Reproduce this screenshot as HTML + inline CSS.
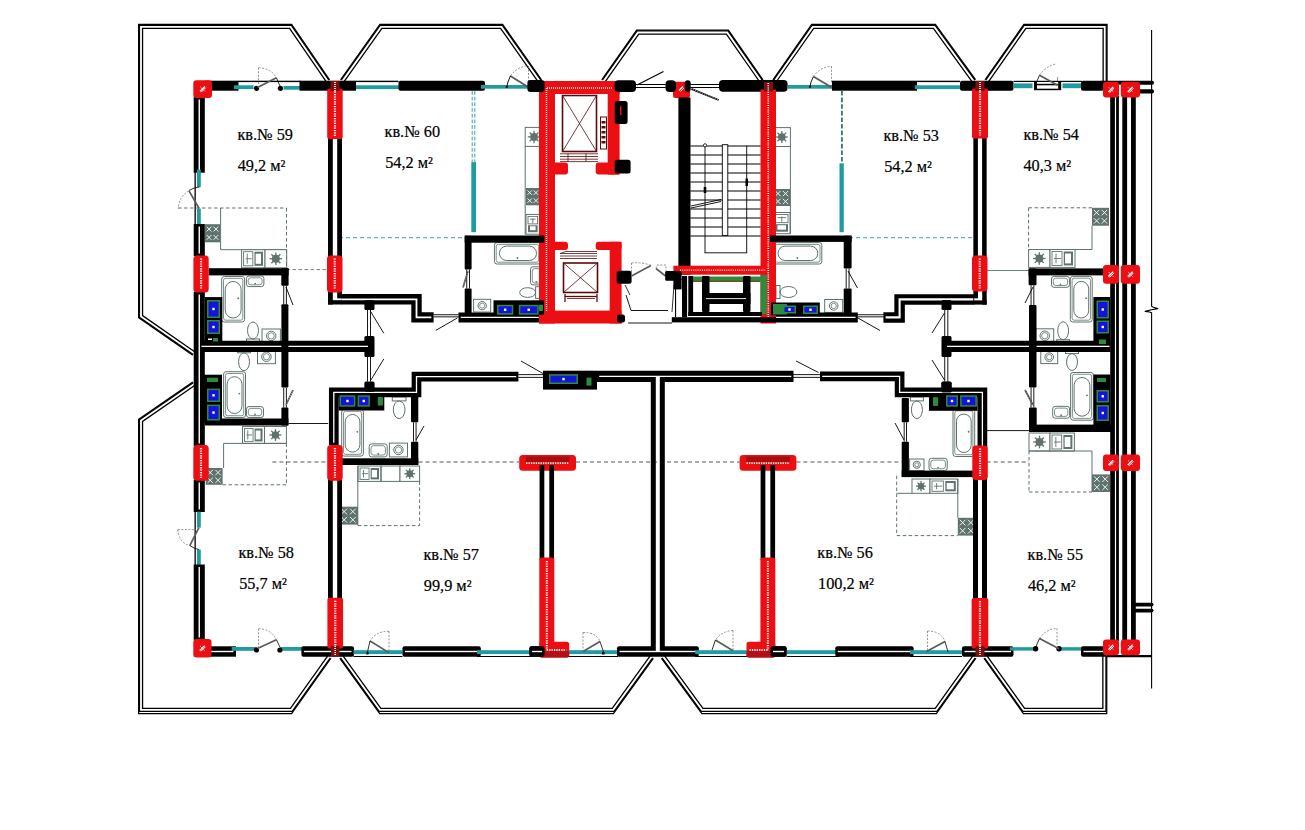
<!DOCTYPE html>
<html><head><meta charset="utf-8"><title>plan</title>
<style>
html,body{margin:0;padding:0;background:#fff;}
body{width:1305px;height:830px;overflow:hidden;}
svg{display:block;}
text{font-family:"Liberation Serif",serif;fill:#000;stroke:#000;stroke-width:0.2px;}
</style></head><body>
<svg width="1305" height="830" viewBox="0 0 1305 830">
<rect width="1305" height="830" fill="#fff"/>
<path d="M195 352.06 L142.55 315.59 L142.55 28.35 L289.58 28.35 L326.36 81.99 M343.73 82.01 L381.9 28.35 L500.59 28.35 L538.37 82.01 M604.93 82.01 L638.71 34.05 L726.39 34.05 L759.76 82 M776.13 82 L813.71 28.35 L933.41 28.35 L972.38 82.03 M988.23 82.01 L1025.91 28.35 L1103.15 28.35 L1103.15 81 M1102.85 656 L1102.85 708.4 L1024.56 708.4 L987.02 655.98 M972.78 655.98 L935.24 708.4 L702.94 708.4 L664.61 655.97 M650.18 655.97 L612.25 708.4 L380.85 708.4 L343.02 655.98 M327.77 655.98 L290.43 708.4 L142.55 708.4 L142.55 421.42 L194.99 385.24" stroke="#000" stroke-width="1.3" fill="none" stroke-linejoin="miter"/>
<path d="M193.23 354.61 L139.45 317.21 L139.45 25.25 L291.21 25.25 L328.91 80.24 M341.2 80.22 L380.3 25.25 L502.2 25.25 L540.9 80.22 M602.4 80.22 L637.1 30.95 L728.01 30.95 L762.31 80.23 M773.59 80.23 L812.1 25.25 L934.99 25.25 L974.89 80.21 M985.7 80.22 L1024.3 25.25 L1106.25 25.25 L1106.25 81 M1105.95 656 L1105.95 711.3 L1022.83 711.3 L984.5 657.79 M975.3 657.79 L936.97 711.3 L701.22 711.3 L662.11 657.8 M652.69 657.79 L613.98 711.3 L379.12 711.3 L340.51 657.79 M330.3 657.78 L292.17 711.3 L139.45 711.3 L139.45 419.79 L193.23 382.69" stroke="#000" stroke-width="1.25" fill="none" stroke-linejoin="miter"/>
<path d="M192.77 355.27 L138.65 317.62 L138.65 24.45 L291.63 24.45 L329.57 79.78 M340.55 79.75 L379.89 24.45 L502.62 24.45 L541.56 79.76 M601.74 79.76 L636.68 30.15 L728.42 30.15 L762.96 79.77 M772.94 79.77 L811.68 24.45 L935.4 24.45 L975.54 79.74 M985.04 79.76 L1023.88 24.45 L1107.05 24.45 L1107.05 81 M1106.75 656 L1106.75 713.5 L1023.42 713.5 L983.85 658.25 M975.95 658.25 L936.38 713.5 L701.84 713.5 L661.46 658.27 M653.34 658.26 L613.37 713.5 L379.72 713.5 L339.86 658.26 M330.95 658.25 L291.59 713.5 L138.65 713.5 L138.65 419.37 L192.78 382.03" stroke="#000" stroke-width="1.25" fill="none" stroke-linejoin="miter"/>
<path d="M1151.6 30 L1151.6 306.3 L1153.5 307.3 L1157.8 308.6 L1151.5 309.8 L1145.1 311.4 L1149.5 312 L1151.6 312.8 L1151.6 688.5" stroke="#000" stroke-width="1.1" fill="none" stroke-linejoin="round"/>
<line x1="1107" y1="656.2" x2="1151.7" y2="656.2" stroke="#000" stroke-width="2.2"/>
<rect x="221.7" y="276.5" width="22.9" height="45.5" rx="2.5" fill="none" stroke="#5f736e" stroke-width="1"/>
<rect x="223.5" y="278.3" width="19.3" height="41.9" rx="2" fill="none" stroke="#5f736e" stroke-width="0.8"/>
<rect x="225.2" y="281.5" width="15.9" height="36.5" rx="7.95" fill="none" stroke="#5f736e" stroke-width="1"/>
<circle cx="238.19" cy="298.25" r="0.9" fill="#5f736e" stroke="none" stroke-width="1"/>
<rect x="246.4" y="276" width="17.5" height="10.6" rx="2.5" fill="none" stroke="#5f736e" stroke-width="1"/>
<rect x="248.2" y="277.8" width="13.9" height="7" rx="2.5" fill="none" stroke="#5f736e" stroke-width="0.8"/>
<circle cx="255.15" cy="283.6" r="0.9" fill="#5f736e" stroke="none" stroke-width="1"/>
<rect x="246.5" y="339" width="13" height="4" fill="none" stroke="#5f736e" stroke-width="1"/>
<ellipse cx="253" cy="330.5" rx="5.5" ry="8.5" fill="none" stroke="#5f736e" stroke-width="1"/>
<rect x="262" y="329" width="18.4" height="13.8" fill="#fff" stroke="#5f736e" stroke-width="1"/>
<circle cx="271.2" cy="335.9" r="4.7" fill="none" stroke="#5f736e" stroke-width="1"/>
<circle cx="271.2" cy="335.9" r="3.1" fill="none" stroke="#5f736e" stroke-width="0.8"/>
<rect x="205" y="224.2" width="15" height="18.1" fill="#5f736e"/>
<line x1="206.65" y1="226.69" x2="211.45" y2="231.49" stroke="#fff" stroke-width="0.9"/>
<line x1="206.65" y1="231.49" x2="211.45" y2="226.69" stroke="#fff" stroke-width="0.9"/>
<line x1="206.65" y1="235.01" x2="211.45" y2="239.81" stroke="#fff" stroke-width="0.9"/>
<line x1="206.65" y1="239.81" x2="211.45" y2="235.01" stroke="#fff" stroke-width="0.9"/>
<line x1="213.55" y1="226.69" x2="218.35" y2="231.49" stroke="#fff" stroke-width="0.9"/>
<line x1="213.55" y1="231.49" x2="218.35" y2="226.69" stroke="#fff" stroke-width="0.9"/>
<line x1="213.55" y1="235.01" x2="218.35" y2="239.81" stroke="#fff" stroke-width="0.9"/>
<line x1="213.55" y1="239.81" x2="218.35" y2="235.01" stroke="#fff" stroke-width="0.9"/>
<line x1="220.6" y1="208" x2="220.6" y2="249.7" stroke="#5f736e" stroke-width="1"/>
<line x1="220.6" y1="249.7" x2="286.5" y2="249.7" stroke="#5f736e" stroke-width="1"/>
<rect x="241.6" y="249.7" width="23.4" height="18.1" fill="#fff" stroke="#5f736e" stroke-width="1"/>
<rect x="243.6" y="251.7" width="9.23" height="14.1" fill="none" stroke="#5f736e" stroke-width="0.9"/>
<rect x="254.47" y="251.7" width="8.53" height="14.1" fill="#5f736e"/>
<rect x="255.64" y="253.7" width="5.36" height="10.1" fill="#fff"/>
<line x1="247.22" y1="253.7" x2="247.22" y2="263.8" stroke="#5f736e" stroke-width="0.9"/>
<line x1="245.6" y1="258.75" x2="251.9" y2="258.75" stroke="#5f736e" stroke-width="0.9"/>
<rect x="265" y="249.7" width="21.7" height="18.1" fill="#fff" stroke="#5f736e" stroke-width="1"/>
<circle cx="275.85" cy="258.75" r="3.98" fill="#5f736e" stroke="none" stroke-width="1"/>
<line x1="279.04" y1="258.75" x2="282.22" y2="258.75" stroke="#5f736e" stroke-width="1.3"/>
<line x1="278.1" y1="261" x2="280.36" y2="263.26" stroke="#5f736e" stroke-width="1.3"/>
<line x1="275.85" y1="261.94" x2="275.85" y2="265.12" stroke="#5f736e" stroke-width="1.3"/>
<line x1="273.6" y1="261" x2="271.34" y2="263.26" stroke="#5f736e" stroke-width="1.3"/>
<line x1="272.66" y1="258.75" x2="269.48" y2="258.75" stroke="#5f736e" stroke-width="1.3"/>
<line x1="273.6" y1="256.5" x2="271.34" y2="254.24" stroke="#5f736e" stroke-width="1.3"/>
<line x1="275.85" y1="255.56" x2="275.85" y2="252.38" stroke="#5f736e" stroke-width="1.3"/>
<line x1="278.1" y1="256.5" x2="280.36" y2="254.24" stroke="#5f736e" stroke-width="1.3"/>
<line x1="178" y1="208" x2="286.5" y2="208" stroke="#5f736e" stroke-width="1" stroke-dasharray="3.5 2.5"/>
<line x1="286.5" y1="208" x2="286.5" y2="268" stroke="#5f736e" stroke-width="1" stroke-dasharray="3.5 2.5"/>
<rect x="223.6" y="371.7" width="21.9" height="45.8" rx="2.5" fill="none" stroke="#5f736e" stroke-width="1"/>
<rect x="225.4" y="373.5" width="18.3" height="42.2" rx="2" fill="none" stroke="#5f736e" stroke-width="0.8"/>
<rect x="227.1" y="376.7" width="14.9" height="36.8" rx="7.45" fill="none" stroke="#5f736e" stroke-width="1"/>
<circle cx="239.37" cy="393.6" r="0.9" fill="#5f736e" stroke="none" stroke-width="1"/>
<rect x="246.5" y="406.6" width="17" height="10.9" rx="2.5" fill="none" stroke="#5f736e" stroke-width="1"/>
<rect x="248.3" y="408.4" width="13.4" height="7.3" rx="2.5" fill="none" stroke="#5f736e" stroke-width="0.8"/>
<circle cx="255" cy="414.5" r="0.9" fill="#5f736e" stroke="none" stroke-width="1"/>
<rect x="237.6" y="348.8" width="12.9" height="4" fill="none" stroke="#5f736e" stroke-width="1"/>
<ellipse cx="244.05" cy="361.75" rx="5.45" ry="8.95" fill="none" stroke="#5f736e" stroke-width="1"/>
<rect x="257.5" y="349.8" width="17.9" height="13.9" fill="#fff" stroke="#5f736e" stroke-width="1"/>
<circle cx="266.45" cy="356.75" r="4.75" fill="none" stroke="#5f736e" stroke-width="1"/>
<circle cx="266.45" cy="356.75" r="3.15" fill="none" stroke="#5f736e" stroke-width="0.8"/>
<rect x="242.5" y="426.5" width="22" height="16.9" fill="#fff" stroke="#5f736e" stroke-width="1"/>
<rect x="244.5" y="428.5" width="8.56" height="12.9" fill="none" stroke="#5f736e" stroke-width="0.9"/>
<rect x="254.6" y="428.5" width="7.9" height="12.9" fill="#5f736e"/>
<rect x="255.7" y="430.5" width="4.8" height="8.9" fill="#fff"/>
<line x1="247.78" y1="430.5" x2="247.78" y2="439.4" stroke="#5f736e" stroke-width="0.9"/>
<line x1="246.5" y1="434.95" x2="252.18" y2="434.95" stroke="#5f736e" stroke-width="0.9"/>
<rect x="264.5" y="426.5" width="21.9" height="16.9" fill="#fff" stroke="#5f736e" stroke-width="1"/>
<circle cx="275.45" cy="434.95" r="3.72" fill="#5f736e" stroke="none" stroke-width="1"/>
<line x1="278.42" y1="434.95" x2="281.4" y2="434.95" stroke="#5f736e" stroke-width="1.3"/>
<line x1="277.55" y1="437.05" x2="279.66" y2="439.16" stroke="#5f736e" stroke-width="1.3"/>
<line x1="275.45" y1="437.92" x2="275.45" y2="440.9" stroke="#5f736e" stroke-width="1.3"/>
<line x1="273.35" y1="437.05" x2="271.24" y2="439.16" stroke="#5f736e" stroke-width="1.3"/>
<line x1="272.48" y1="434.95" x2="269.5" y2="434.95" stroke="#5f736e" stroke-width="1.3"/>
<line x1="273.35" y1="432.85" x2="271.24" y2="430.74" stroke="#5f736e" stroke-width="1.3"/>
<line x1="275.45" y1="431.98" x2="275.45" y2="429" stroke="#5f736e" stroke-width="1.3"/>
<line x1="277.55" y1="432.85" x2="279.66" y2="430.74" stroke="#5f736e" stroke-width="1.3"/>
<line x1="223.6" y1="443.4" x2="286.4" y2="443.4" stroke="#5f736e" stroke-width="1"/>
<line x1="223.6" y1="443.4" x2="223.6" y2="468" stroke="#5f736e" stroke-width="1"/>
<rect x="205.7" y="468" width="16.9" height="16.8" fill="#5f736e"/>
<line x1="207.57" y1="469.85" x2="212.95" y2="475.22" stroke="#fff" stroke-width="0.9"/>
<line x1="207.57" y1="475.22" x2="212.95" y2="469.85" stroke="#fff" stroke-width="0.9"/>
<line x1="207.57" y1="477.58" x2="212.95" y2="482.95" stroke="#fff" stroke-width="0.9"/>
<line x1="207.57" y1="482.95" x2="212.95" y2="477.58" stroke="#fff" stroke-width="0.9"/>
<line x1="215.35" y1="469.85" x2="220.72" y2="475.22" stroke="#fff" stroke-width="0.9"/>
<line x1="215.35" y1="475.22" x2="220.72" y2="469.85" stroke="#fff" stroke-width="0.9"/>
<line x1="215.35" y1="477.58" x2="220.72" y2="482.95" stroke="#fff" stroke-width="0.9"/>
<line x1="215.35" y1="482.95" x2="220.72" y2="477.58" stroke="#fff" stroke-width="0.9"/>
<line x1="222.6" y1="484.8" x2="286.4" y2="484.8" stroke="#5f736e" stroke-width="1" stroke-dasharray="3.5 2.5"/>
<line x1="286.4" y1="443.4" x2="286.4" y2="484.8" stroke="#5f736e" stroke-width="1" stroke-dasharray="3.5 2.5"/>
<rect x="494.4" y="242.6" width="46.1" height="21.4" rx="2.5" fill="none" stroke="#5f736e" stroke-width="1"/>
<rect x="496.2" y="244.4" width="42.5" height="17.8" rx="2" fill="none" stroke="#5f736e" stroke-width="0.8"/>
<rect x="499.4" y="246.1" width="37.1" height="14.4" rx="7.2" fill="none" stroke="#5f736e" stroke-width="1"/>
<circle cx="517.45" cy="258.01" r="0.9" fill="#5f736e" stroke="none" stroke-width="1"/>
<rect x="530.5" y="266.8" width="11.8" height="18.1" rx="2.5" fill="none" stroke="#5f736e" stroke-width="1"/>
<rect x="532.3" y="268.6" width="8.2" height="14.5" rx="2.5" fill="none" stroke="#5f736e" stroke-width="0.8"/>
<circle cx="536.4" cy="281.9" r="0.9" fill="#5f736e" stroke="none" stroke-width="1"/>
<rect x="535.6" y="286.7" width="4" height="11.7" fill="none" stroke="#5f736e" stroke-width="1"/>
<ellipse cx="527.65" cy="292.55" rx="7.95" ry="4.85" fill="none" stroke="#5f736e" stroke-width="1"/>
<rect x="473.6" y="299.3" width="17.1" height="12.7" fill="#fff" stroke="#5f736e" stroke-width="1"/>
<circle cx="482.15" cy="305.65" r="4.15" fill="none" stroke="#5f736e" stroke-width="1"/>
<circle cx="482.15" cy="305.65" r="2.55" fill="none" stroke="#5f736e" stroke-width="0.8"/>
<rect x="525.2" y="127.4" width="17.7" height="19" fill="#fff" stroke="#5f736e" stroke-width="1"/>
<circle cx="534.05" cy="136.9" r="3.89" fill="#5f736e" stroke="none" stroke-width="1"/>
<line x1="537.17" y1="136.9" x2="540.28" y2="136.9" stroke="#5f736e" stroke-width="1.3"/>
<line x1="536.25" y1="139.1" x2="538.46" y2="141.31" stroke="#5f736e" stroke-width="1.3"/>
<line x1="534.05" y1="140.02" x2="534.05" y2="143.13" stroke="#5f736e" stroke-width="1.3"/>
<line x1="531.85" y1="139.1" x2="529.64" y2="141.31" stroke="#5f736e" stroke-width="1.3"/>
<line x1="530.93" y1="136.9" x2="527.82" y2="136.9" stroke="#5f736e" stroke-width="1.3"/>
<line x1="531.85" y1="134.7" x2="529.64" y2="132.49" stroke="#5f736e" stroke-width="1.3"/>
<line x1="534.05" y1="133.78" x2="534.05" y2="130.67" stroke="#5f736e" stroke-width="1.3"/>
<line x1="536.25" y1="134.7" x2="538.46" y2="132.49" stroke="#5f736e" stroke-width="1.3"/>
<line x1="525.2" y1="146.4" x2="525.2" y2="234.5" stroke="#5f736e" stroke-width="1"/>
<rect x="526" y="188" width="13.6" height="17.3" fill="#5f736e"/>
<line x1="527.5" y1="190.49" x2="531.85" y2="194.85" stroke="#fff" stroke-width="0.9"/>
<line x1="527.5" y1="194.85" x2="531.85" y2="190.49" stroke="#fff" stroke-width="0.9"/>
<line x1="527.5" y1="198.45" x2="531.85" y2="202.81" stroke="#fff" stroke-width="0.9"/>
<line x1="527.5" y1="202.81" x2="531.85" y2="198.45" stroke="#fff" stroke-width="0.9"/>
<line x1="533.75" y1="190.49" x2="538.1" y2="194.85" stroke="#fff" stroke-width="0.9"/>
<line x1="533.75" y1="194.85" x2="538.1" y2="190.49" stroke="#fff" stroke-width="0.9"/>
<line x1="533.75" y1="198.45" x2="538.1" y2="202.81" stroke="#fff" stroke-width="0.9"/>
<line x1="533.75" y1="202.81" x2="538.1" y2="198.45" stroke="#fff" stroke-width="0.9"/>
<rect x="526" y="214.4" width="13.6" height="19.8" fill="#fff" stroke="#5f736e" stroke-width="1"/>
<rect x="528" y="216.4" width="9.6" height="7.5" fill="none" stroke="#5f736e" stroke-width="0.9"/>
<rect x="528" y="225.29" width="9.6" height="6.91" fill="#5f736e"/>
<rect x="530" y="226.28" width="5.6" height="3.92" fill="#fff"/>
<line x1="532.8" y1="218.4" x2="532.8" y2="223.11" stroke="#5f736e" stroke-width="0.9"/>
<line x1="530" y1="219.15" x2="535.6" y2="219.15" stroke="#5f736e" stroke-width="0.9"/>
<rect x="341.7" y="409.5" width="21.7" height="46.6" rx="2.5" fill="none" stroke="#5f736e" stroke-width="1"/>
<rect x="343.5" y="411.3" width="18.1" height="43" rx="2" fill="none" stroke="#5f736e" stroke-width="0.8"/>
<rect x="345.2" y="414.5" width="14.7" height="37.6" rx="7.35" fill="none" stroke="#5f736e" stroke-width="1"/>
<circle cx="357.32" cy="431.8" r="0.9" fill="#5f736e" stroke="none" stroke-width="1"/>
<rect x="392.3" y="396.9" width="13.7" height="4" fill="none" stroke="#5f736e" stroke-width="1"/>
<ellipse cx="399.15" cy="409.75" rx="5.85" ry="8.85" fill="none" stroke="#5f736e" stroke-width="1"/>
<rect x="369.2" y="443.9" width="18" height="13" rx="2.5" fill="none" stroke="#5f736e" stroke-width="1"/>
<rect x="371" y="445.7" width="14.4" height="9.4" rx="2.5" fill="none" stroke="#5f736e" stroke-width="0.8"/>
<circle cx="378.2" cy="453.9" r="0.9" fill="#5f736e" stroke="none" stroke-width="1"/>
<rect x="389.4" y="443.1" width="18.1" height="13.8" fill="#fff" stroke="#5f736e" stroke-width="1"/>
<circle cx="398.45" cy="450" r="4.7" fill="none" stroke="#5f736e" stroke-width="1"/>
<circle cx="398.45" cy="450" r="3.1" fill="none" stroke="#5f736e" stroke-width="0.8"/>
<rect x="358" y="466" width="23" height="15.4" fill="#fff" stroke="#5f736e" stroke-width="1"/>
<rect x="360" y="468" width="9.04" height="11.4" fill="none" stroke="#5f736e" stroke-width="0.9"/>
<rect x="370.65" y="468" width="8.35" height="11.4" fill="#5f736e"/>
<rect x="371.8" y="470" width="5.2" height="7.4" fill="#fff"/>
<line x1="363.52" y1="470" x2="363.52" y2="477.4" stroke="#5f736e" stroke-width="0.9"/>
<line x1="362" y1="473.7" x2="368.12" y2="473.7" stroke="#5f736e" stroke-width="0.9"/>
<rect x="381" y="466" width="19" height="15.4" fill="none" stroke="#5f736e" stroke-width="1"/>
<rect x="400" y="466" width="19.6" height="15.4" fill="#fff" stroke="#5f736e" stroke-width="1"/>
<circle cx="409.8" cy="473.7" r="3.39" fill="#5f736e" stroke="none" stroke-width="1"/>
<line x1="412.51" y1="473.7" x2="415.22" y2="473.7" stroke="#5f736e" stroke-width="1.3"/>
<line x1="411.72" y1="475.62" x2="413.63" y2="477.53" stroke="#5f736e" stroke-width="1.3"/>
<line x1="409.8" y1="476.41" x2="409.8" y2="479.12" stroke="#5f736e" stroke-width="1.3"/>
<line x1="407.88" y1="475.62" x2="405.97" y2="477.53" stroke="#5f736e" stroke-width="1.3"/>
<line x1="407.09" y1="473.7" x2="404.38" y2="473.7" stroke="#5f736e" stroke-width="1.3"/>
<line x1="407.88" y1="471.78" x2="405.97" y2="469.87" stroke="#5f736e" stroke-width="1.3"/>
<line x1="409.8" y1="470.99" x2="409.8" y2="468.28" stroke="#5f736e" stroke-width="1.3"/>
<line x1="411.72" y1="471.78" x2="413.63" y2="469.87" stroke="#5f736e" stroke-width="1.3"/>
<line x1="357.8" y1="466" x2="357.8" y2="525.6" stroke="#5f736e" stroke-width="1"/>
<rect x="339" y="506.7" width="19" height="17.9" fill="#5f736e"/>
<line x1="341.27" y1="508.67" x2="346.99" y2="514.4" stroke="#fff" stroke-width="0.9"/>
<line x1="341.27" y1="514.4" x2="346.99" y2="508.67" stroke="#fff" stroke-width="0.9"/>
<line x1="341.27" y1="516.9" x2="346.99" y2="522.63" stroke="#fff" stroke-width="0.9"/>
<line x1="341.27" y1="522.63" x2="346.99" y2="516.9" stroke="#fff" stroke-width="0.9"/>
<line x1="350.01" y1="508.67" x2="355.73" y2="514.4" stroke="#fff" stroke-width="0.9"/>
<line x1="350.01" y1="514.4" x2="355.73" y2="508.67" stroke="#fff" stroke-width="0.9"/>
<line x1="350.01" y1="516.9" x2="355.73" y2="522.63" stroke="#fff" stroke-width="0.9"/>
<line x1="350.01" y1="522.63" x2="355.73" y2="516.9" stroke="#fff" stroke-width="0.9"/>
<line x1="419.6" y1="481.4" x2="419.6" y2="525.6" stroke="#5f736e" stroke-width="1" stroke-dasharray="3.5 2.5"/>
<line x1="358" y1="525.6" x2="419.6" y2="525.6" stroke="#5f736e" stroke-width="1" stroke-dasharray="3.5 2.5"/>
<rect x="563" y="374.2" width="1.5" height="9.8" fill="#fff"/>
<rect x="774" y="305" width="3" height="3" fill="#000"/>
<rect x="773" y="242.6" width="48.8" height="21.4" rx="2.5" fill="none" stroke="#5f736e" stroke-width="1"/>
<rect x="774.8" y="244.4" width="45.2" height="17.8" rx="2" fill="none" stroke="#5f736e" stroke-width="0.8"/>
<rect x="778" y="246.1" width="39.8" height="14.4" rx="7.2" fill="none" stroke="#5f736e" stroke-width="1"/>
<circle cx="797.4" cy="258.01" r="0.9" fill="#5f736e" stroke="none" stroke-width="1"/>
<rect x="776" y="285.5" width="4" height="13" fill="none" stroke="#5f736e" stroke-width="1"/>
<ellipse cx="788.45" cy="292" rx="8.45" ry="5.5" fill="none" stroke="#5f736e" stroke-width="1"/>
<rect x="824.7" y="299.5" width="18" height="12.9" fill="#fff" stroke="#5f736e" stroke-width="1"/>
<circle cx="833.7" cy="305.95" r="4.25" fill="none" stroke="#5f736e" stroke-width="1"/>
<circle cx="833.7" cy="305.95" r="2.65" fill="none" stroke="#5f736e" stroke-width="0.8"/>
<rect x="773.2" y="127.6" width="17.2" height="18.9" fill="#fff" stroke="#5f736e" stroke-width="1"/>
<circle cx="781.8" cy="137.05" r="3.78" fill="#5f736e" stroke="none" stroke-width="1"/>
<line x1="784.83" y1="137.05" x2="787.85" y2="137.05" stroke="#5f736e" stroke-width="1.3"/>
<line x1="783.94" y1="139.19" x2="786.08" y2="141.33" stroke="#5f736e" stroke-width="1.3"/>
<line x1="781.8" y1="140.08" x2="781.8" y2="143.1" stroke="#5f736e" stroke-width="1.3"/>
<line x1="779.66" y1="139.19" x2="777.52" y2="141.33" stroke="#5f736e" stroke-width="1.3"/>
<line x1="778.77" y1="137.05" x2="775.75" y2="137.05" stroke="#5f736e" stroke-width="1.3"/>
<line x1="779.66" y1="134.91" x2="777.52" y2="132.77" stroke="#5f736e" stroke-width="1.3"/>
<line x1="781.8" y1="134.02" x2="781.8" y2="131" stroke="#5f736e" stroke-width="1.3"/>
<line x1="783.94" y1="134.91" x2="786.08" y2="132.77" stroke="#5f736e" stroke-width="1.3"/>
<line x1="790.4" y1="146.5" x2="790.4" y2="234" stroke="#5f736e" stroke-width="1"/>
<rect x="773.5" y="189" width="16.5" height="17" fill="#5f736e"/>
<line x1="775.32" y1="190.95" x2="780.6" y2="196.23" stroke="#fff" stroke-width="0.9"/>
<line x1="775.32" y1="196.23" x2="780.6" y2="190.95" stroke="#fff" stroke-width="0.9"/>
<line x1="775.32" y1="198.77" x2="780.6" y2="204.05" stroke="#fff" stroke-width="0.9"/>
<line x1="775.32" y1="204.05" x2="780.6" y2="198.77" stroke="#fff" stroke-width="0.9"/>
<line x1="782.9" y1="190.95" x2="788.18" y2="196.23" stroke="#fff" stroke-width="0.9"/>
<line x1="782.9" y1="196.23" x2="788.18" y2="190.95" stroke="#fff" stroke-width="0.9"/>
<line x1="782.9" y1="198.77" x2="788.18" y2="204.05" stroke="#fff" stroke-width="0.9"/>
<line x1="782.9" y1="204.05" x2="788.18" y2="198.77" stroke="#fff" stroke-width="0.9"/>
<rect x="773.5" y="212.5" width="16.5" height="21.2" fill="#fff" stroke="#5f736e" stroke-width="1"/>
<rect x="775.5" y="214.5" width="12.5" height="8.18" fill="none" stroke="#5f736e" stroke-width="0.9"/>
<rect x="775.5" y="224.16" width="12.5" height="7.54" fill="#5f736e"/>
<rect x="777.5" y="225.22" width="8.5" height="4.48" fill="#fff"/>
<line x1="781.75" y1="216.5" x2="781.75" y2="221.83" stroke="#5f736e" stroke-width="0.9"/>
<line x1="777.5" y1="217.59" x2="786" y2="217.59" stroke="#5f736e" stroke-width="0.9"/>
<rect x="953" y="409" width="21.7" height="47.5" rx="2.5" fill="none" stroke="#5f736e" stroke-width="1"/>
<rect x="954.8" y="410.8" width="18.1" height="43.9" rx="2" fill="none" stroke="#5f736e" stroke-width="0.8"/>
<rect x="956.5" y="414" width="14.7" height="38.5" rx="7.35" fill="none" stroke="#5f736e" stroke-width="1"/>
<circle cx="968.62" cy="431.75" r="0.9" fill="#5f736e" stroke="none" stroke-width="1"/>
<rect x="910.4" y="396.9" width="13" height="4" fill="none" stroke="#5f736e" stroke-width="1"/>
<ellipse cx="916.9" cy="409.75" rx="5.5" ry="8.85" fill="none" stroke="#5f736e" stroke-width="1"/>
<rect x="909.6" y="459" width="14.4" height="11.6" fill="#fff" stroke="#5f736e" stroke-width="1"/>
<circle cx="916.8" cy="464.8" r="3.6" fill="none" stroke="#5f736e" stroke-width="1"/>
<circle cx="916.8" cy="464.8" r="2" fill="none" stroke="#5f736e" stroke-width="0.8"/>
<rect x="929" y="458.3" width="18.2" height="12.3" rx="2.5" fill="none" stroke="#5f736e" stroke-width="1"/>
<rect x="930.8" y="460.1" width="14.6" height="8.7" rx="2.5" fill="none" stroke="#5f736e" stroke-width="0.8"/>
<circle cx="938.1" cy="467.6" r="0.9" fill="#5f736e" stroke="none" stroke-width="1"/>
<rect x="912" y="479" width="18" height="14.3" fill="#fff" stroke="#5f736e" stroke-width="1"/>
<circle cx="921" cy="486.15" r="3.15" fill="#5f736e" stroke="none" stroke-width="1"/>
<line x1="923.52" y1="486.15" x2="926.03" y2="486.15" stroke="#5f736e" stroke-width="1.3"/>
<line x1="922.78" y1="487.93" x2="924.56" y2="489.71" stroke="#5f736e" stroke-width="1.3"/>
<line x1="921" y1="488.67" x2="921" y2="491.18" stroke="#5f736e" stroke-width="1.3"/>
<line x1="919.22" y1="487.93" x2="917.44" y2="489.71" stroke="#5f736e" stroke-width="1.3"/>
<line x1="918.48" y1="486.15" x2="915.97" y2="486.15" stroke="#5f736e" stroke-width="1.3"/>
<line x1="919.22" y1="484.37" x2="917.44" y2="482.59" stroke="#5f736e" stroke-width="1.3"/>
<line x1="921" y1="483.63" x2="921" y2="481.12" stroke="#5f736e" stroke-width="1.3"/>
<line x1="922.78" y1="484.37" x2="924.56" y2="482.59" stroke="#5f736e" stroke-width="1.3"/>
<rect x="930" y="479" width="27.8" height="14.3" fill="#fff" stroke="#5f736e" stroke-width="1"/>
<rect x="932" y="481" width="11.34" height="10.3" fill="none" stroke="#5f736e" stroke-width="0.9"/>
<rect x="945.29" y="481" width="10.51" height="10.3" fill="#5f736e"/>
<rect x="946.68" y="483" width="7.12" height="6.3" fill="#fff"/>
<line x1="936.67" y1="483" x2="936.67" y2="489.3" stroke="#5f736e" stroke-width="0.9"/>
<line x1="934" y1="486.15" x2="942.23" y2="486.15" stroke="#5f736e" stroke-width="0.9"/>
<line x1="957.8" y1="479" x2="957.8" y2="517.8" stroke="#5f736e" stroke-width="1"/>
<line x1="896.7" y1="493.3" x2="912" y2="493.3" stroke="#5f736e" stroke-width="1"/>
<rect x="957.8" y="517.8" width="17.8" height="17.8" fill="#5f736e"/>
<line x1="959.76" y1="519.76" x2="965.45" y2="525.45" stroke="#fff" stroke-width="0.9"/>
<line x1="959.76" y1="525.45" x2="965.45" y2="519.76" stroke="#fff" stroke-width="0.9"/>
<line x1="959.76" y1="527.95" x2="965.45" y2="533.64" stroke="#fff" stroke-width="0.9"/>
<line x1="959.76" y1="533.64" x2="965.45" y2="527.95" stroke="#fff" stroke-width="0.9"/>
<line x1="967.95" y1="519.76" x2="973.64" y2="525.45" stroke="#fff" stroke-width="0.9"/>
<line x1="967.95" y1="525.45" x2="973.64" y2="519.76" stroke="#fff" stroke-width="0.9"/>
<line x1="967.95" y1="527.95" x2="973.64" y2="533.64" stroke="#fff" stroke-width="0.9"/>
<line x1="967.95" y1="533.64" x2="973.64" y2="527.95" stroke="#fff" stroke-width="0.9"/>
<line x1="896.7" y1="475.6" x2="896.7" y2="535.6" stroke="#5f736e" stroke-width="1" stroke-dasharray="3.5 2.5"/>
<line x1="896.7" y1="535.6" x2="957.8" y2="535.6" stroke="#5f736e" stroke-width="1" stroke-dasharray="3.5 2.5"/>
<rect x="1070.3" y="276.4" width="21.9" height="45.6" rx="2.5" fill="none" stroke="#5f736e" stroke-width="1"/>
<rect x="1072.1" y="278.2" width="18.3" height="42" rx="2" fill="none" stroke="#5f736e" stroke-width="0.8"/>
<rect x="1073.8" y="281.4" width="14.9" height="36.6" rx="7.45" fill="none" stroke="#5f736e" stroke-width="1"/>
<circle cx="1086.07" cy="298.2" r="0.9" fill="#5f736e" stroke="none" stroke-width="1"/>
<rect x="1051.5" y="276.4" width="17.9" height="10.9" rx="2.5" fill="none" stroke="#5f736e" stroke-width="1"/>
<rect x="1053.3" y="278.2" width="14.3" height="7.3" rx="2.5" fill="none" stroke="#5f736e" stroke-width="0.8"/>
<circle cx="1060.45" cy="284.3" r="0.9" fill="#5f736e" stroke="none" stroke-width="1"/>
<rect x="1056.7" y="339.7" width="12.9" height="4" fill="none" stroke="#5f736e" stroke-width="1"/>
<ellipse cx="1063.15" cy="330.75" rx="5.45" ry="8.95" fill="none" stroke="#5f736e" stroke-width="1"/>
<rect x="1035.8" y="328.8" width="17.9" height="13.9" fill="#fff" stroke="#5f736e" stroke-width="1"/>
<circle cx="1044.75" cy="335.75" r="4.75" fill="none" stroke="#5f736e" stroke-width="1"/>
<circle cx="1044.75" cy="335.75" r="3.15" fill="none" stroke="#5f736e" stroke-width="0.8"/>
<rect x="1092" y="207.8" width="17" height="17.9" fill="#5f736e"/>
<line x1="1093.87" y1="209.91" x2="1099.31" y2="215.35" stroke="#fff" stroke-width="0.9"/>
<line x1="1093.87" y1="215.35" x2="1099.31" y2="209.91" stroke="#fff" stroke-width="0.9"/>
<line x1="1093.87" y1="218.15" x2="1099.31" y2="223.59" stroke="#fff" stroke-width="0.9"/>
<line x1="1093.87" y1="223.59" x2="1099.31" y2="218.15" stroke="#fff" stroke-width="0.9"/>
<line x1="1101.69" y1="209.91" x2="1107.13" y2="215.35" stroke="#fff" stroke-width="0.9"/>
<line x1="1101.69" y1="215.35" x2="1107.13" y2="209.91" stroke="#fff" stroke-width="0.9"/>
<line x1="1101.69" y1="218.15" x2="1107.13" y2="223.59" stroke="#fff" stroke-width="0.9"/>
<line x1="1101.69" y1="223.59" x2="1107.13" y2="218.15" stroke="#fff" stroke-width="0.9"/>
<line x1="1092" y1="225.7" x2="1092" y2="249.5" stroke="#5f736e" stroke-width="1"/>
<line x1="1028.6" y1="249.5" x2="1092" y2="249.5" stroke="#5f736e" stroke-width="1"/>
<rect x="1028.6" y="249.5" width="21.4" height="17.9" fill="#fff" stroke="#5f736e" stroke-width="1"/>
<circle cx="1039.3" cy="258.45" r="3.94" fill="#5f736e" stroke="none" stroke-width="1"/>
<line x1="1042.45" y1="258.45" x2="1045.6" y2="258.45" stroke="#5f736e" stroke-width="1.3"/>
<line x1="1041.53" y1="260.68" x2="1043.76" y2="262.91" stroke="#5f736e" stroke-width="1.3"/>
<line x1="1039.3" y1="261.6" x2="1039.3" y2="264.75" stroke="#5f736e" stroke-width="1.3"/>
<line x1="1037.07" y1="260.68" x2="1034.84" y2="262.91" stroke="#5f736e" stroke-width="1.3"/>
<line x1="1036.15" y1="258.45" x2="1033" y2="258.45" stroke="#5f736e" stroke-width="1.3"/>
<line x1="1037.07" y1="256.22" x2="1034.84" y2="253.99" stroke="#5f736e" stroke-width="1.3"/>
<line x1="1039.3" y1="255.3" x2="1039.3" y2="252.15" stroke="#5f736e" stroke-width="1.3"/>
<line x1="1041.53" y1="256.22" x2="1043.76" y2="253.99" stroke="#5f736e" stroke-width="1.3"/>
<rect x="1050" y="249.5" width="25" height="17.9" fill="#fff" stroke="#5f736e" stroke-width="1"/>
<rect x="1052" y="251.5" width="10" height="13.9" fill="none" stroke="#5f736e" stroke-width="0.9"/>
<rect x="1063.75" y="251.5" width="9.25" height="13.9" fill="#5f736e"/>
<rect x="1065" y="253.5" width="6" height="9.9" fill="#fff"/>
<line x1="1056" y1="253.5" x2="1056" y2="263.4" stroke="#5f736e" stroke-width="0.9"/>
<line x1="1054" y1="258.45" x2="1061" y2="258.45" stroke="#5f736e" stroke-width="0.9"/>
<line x1="1028.6" y1="207.8" x2="1092" y2="207.8" stroke="#5f736e" stroke-width="1" stroke-dasharray="3.5 2.5"/>
<line x1="1028.6" y1="207.8" x2="1028.6" y2="249.5" stroke="#5f736e" stroke-width="1" stroke-dasharray="3.5 2.5"/>
<rect x="1070.6" y="372.5" width="22.8" height="47.7" rx="2.5" fill="none" stroke="#5f736e" stroke-width="1"/>
<rect x="1072.4" y="374.3" width="19.2" height="44.1" rx="2" fill="none" stroke="#5f736e" stroke-width="0.8"/>
<rect x="1074.1" y="377.5" width="15.8" height="38.7" rx="7.9" fill="none" stroke="#5f736e" stroke-width="1"/>
<circle cx="1087.02" cy="395.35" r="0.9" fill="#5f736e" stroke="none" stroke-width="1"/>
<rect x="1052.7" y="406.3" width="16.9" height="11.9" rx="2.5" fill="none" stroke="#5f736e" stroke-width="1"/>
<rect x="1054.5" y="408.1" width="13.3" height="8.3" rx="2.5" fill="none" stroke="#5f736e" stroke-width="0.8"/>
<circle cx="1061.15" cy="415.2" r="0.9" fill="#5f736e" stroke="none" stroke-width="1"/>
<rect x="1065.6" y="349.6" width="12.9" height="4" fill="none" stroke="#5f736e" stroke-width="1"/>
<ellipse cx="1072.05" cy="362.05" rx="5.45" ry="8.45" fill="none" stroke="#5f736e" stroke-width="1"/>
<rect x="1040.8" y="350.6" width="16.9" height="13" fill="#fff" stroke="#5f736e" stroke-width="1"/>
<circle cx="1049.25" cy="357.1" r="4.3" fill="none" stroke="#5f736e" stroke-width="1"/>
<circle cx="1049.25" cy="357.1" r="2.7" fill="none" stroke="#5f736e" stroke-width="0.8"/>
<rect x="1029" y="433" width="21" height="18" fill="#fff" stroke="#5f736e" stroke-width="1"/>
<circle cx="1039.5" cy="442" r="3.96" fill="#5f736e" stroke="none" stroke-width="1"/>
<line x1="1042.67" y1="442" x2="1045.84" y2="442" stroke="#5f736e" stroke-width="1.3"/>
<line x1="1041.74" y1="444.24" x2="1043.98" y2="446.48" stroke="#5f736e" stroke-width="1.3"/>
<line x1="1039.5" y1="445.17" x2="1039.5" y2="448.34" stroke="#5f736e" stroke-width="1.3"/>
<line x1="1037.26" y1="444.24" x2="1035.02" y2="446.48" stroke="#5f736e" stroke-width="1.3"/>
<line x1="1036.33" y1="442" x2="1033.16" y2="442" stroke="#5f736e" stroke-width="1.3"/>
<line x1="1037.26" y1="439.76" x2="1035.02" y2="437.52" stroke="#5f736e" stroke-width="1.3"/>
<line x1="1039.5" y1="438.83" x2="1039.5" y2="435.66" stroke="#5f736e" stroke-width="1.3"/>
<line x1="1041.74" y1="439.76" x2="1043.98" y2="437.52" stroke="#5f736e" stroke-width="1.3"/>
<rect x="1050" y="433" width="24.4" height="18" fill="#fff" stroke="#5f736e" stroke-width="1"/>
<rect x="1052" y="435" width="9.71" height="14" fill="none" stroke="#5f736e" stroke-width="0.9"/>
<rect x="1063.42" y="435" width="8.98" height="14" fill="#5f736e"/>
<rect x="1064.64" y="437" width="5.76" height="10" fill="#fff"/>
<line x1="1055.86" y1="437" x2="1055.86" y2="447" stroke="#5f736e" stroke-width="0.9"/>
<line x1="1054" y1="442" x2="1060.74" y2="442" stroke="#5f736e" stroke-width="0.9"/>
<line x1="1092" y1="451" x2="1092" y2="492" stroke="#5f736e" stroke-width="1"/>
<line x1="1029" y1="451" x2="1092" y2="451" stroke="#5f736e" stroke-width="1"/>
<rect x="1092" y="474.4" width="18" height="17.6" fill="#5f736e"/>
<line x1="1094.04" y1="476.34" x2="1099.68" y2="481.97" stroke="#fff" stroke-width="0.9"/>
<line x1="1094.04" y1="481.97" x2="1099.68" y2="476.34" stroke="#fff" stroke-width="0.9"/>
<line x1="1094.04" y1="484.43" x2="1099.68" y2="490.06" stroke="#fff" stroke-width="0.9"/>
<line x1="1094.04" y1="490.06" x2="1099.68" y2="484.43" stroke="#fff" stroke-width="0.9"/>
<line x1="1102.32" y1="476.34" x2="1107.96" y2="481.97" stroke="#fff" stroke-width="0.9"/>
<line x1="1102.32" y1="481.97" x2="1107.96" y2="476.34" stroke="#fff" stroke-width="0.9"/>
<line x1="1102.32" y1="484.43" x2="1107.96" y2="490.06" stroke="#fff" stroke-width="0.9"/>
<line x1="1102.32" y1="490.06" x2="1107.96" y2="484.43" stroke="#fff" stroke-width="0.9"/>
<line x1="1029" y1="451" x2="1029" y2="492" stroke="#5f736e" stroke-width="1" stroke-dasharray="3.5 2.5"/>
<line x1="1029" y1="492" x2="1092" y2="492" stroke="#5f736e" stroke-width="1" stroke-dasharray="3.5 2.5"/>
<line x1="472.2" y1="91" x2="472.2" y2="162.5" stroke="#209ba0" stroke-width="0.9" stroke-dasharray="3.8 1.9"/>
<line x1="474.8" y1="91" x2="474.8" y2="162.5" stroke="#209ba0" stroke-width="0.9" stroke-dasharray="3.8 1.9"/>
<rect x="471.3" y="162.2" width="4.7" height="70" fill="#209ba0"/>
<line x1="339" y1="237.7" x2="471" y2="237.7" stroke="#209ba0" stroke-width="0.9" stroke-dasharray="4 3"/>
<line x1="841.9" y1="91" x2="841.9" y2="163.3" stroke="#3d7a78" stroke-width="1.9" stroke-dasharray="4.6 2"/>
<rect x="839.5" y="163.3" width="4.3" height="68.9" fill="#209ba0"/>
<line x1="842" y1="237.7" x2="975" y2="237.7" stroke="#209ba0" stroke-width="0.9" stroke-dasharray="4 3"/>
<line x1="286.5" y1="269.6" x2="328" y2="269.6" stroke="#5f736e" stroke-width="0.9" stroke-dasharray="3.5 2.5"/>
<line x1="987" y1="270.5" x2="1028.6" y2="270.5" stroke="#5f736e" stroke-width="0.9"/>
<line x1="288.4" y1="423.5" x2="328.2" y2="423.5" stroke="#000" stroke-width="0.9"/>
<line x1="986.7" y1="430.6" x2="1029" y2="430.6" stroke="#000" stroke-width="0.9"/>
<line x1="272.4" y1="462" x2="327.2" y2="462" stroke="#444" stroke-width="0.9" stroke-dasharray="4 3"/>
<line x1="418.6" y1="462" x2="519" y2="462" stroke="#444" stroke-width="0.9" stroke-dasharray="4 3"/>
<line x1="576" y1="462" x2="739.6" y2="462" stroke="#444" stroke-width="0.9" stroke-dasharray="4 3"/>
<line x1="796.4" y1="462" x2="903" y2="462" stroke="#444" stroke-width="0.9" stroke-dasharray="4 3"/>
<line x1="986.7" y1="462" x2="1029" y2="462" stroke="#444" stroke-width="0.9" stroke-dasharray="4 3"/>
<rect x="205" y="80.7" width="33.5" height="10" fill="#000"/>
<rect x="238" y="80.7" width="62.5" height="1.4" fill="#000"/>
<rect x="234" y="85.3" width="19.5" height="3.8" fill="#209ba0"/>
<rect x="283.5" y="86" width="19" height="3.7" fill="#209ba0"/>
<circle cx="256.5" cy="88.3" r="2.6" fill="#000" stroke="none" stroke-width="1"/>
<circle cx="280.4" cy="88.3" r="2.6" fill="#000" stroke="none" stroke-width="1"/>
<line x1="257.5" y1="87.5" x2="276.4" y2="77.8" stroke="#5a5a5a" stroke-width="1.7"/>
<line x1="276.4" y1="77.8" x2="280" y2="86" stroke="#000" stroke-width="0.8"/>
<line x1="258.5" y1="67.8" x2="258.5" y2="84.7" stroke="#777" stroke-width="0.8" stroke-dasharray="2 1.5"/>
<path d="M258.5 67.8 Q271 68 276.4 77.8" stroke="#777" stroke-width="0.8" fill="none" stroke-dasharray="2 1.5"/>
<rect x="299.5" y="80.7" width="56.5" height="10" fill="#000"/>
<rect x="356" y="80.7" width="42.5" height="1.4" fill="#000"/>
<rect x="356" y="85.3" width="45.8" height="3.8" fill="#209ba0"/>
<rect x="398.5" y="80.7" width="86.5" height="10" rx="2" fill="#000"/>
<rect x="481" y="85" width="47" height="3.7" fill="#209ba0"/>
<line x1="527.3" y1="86.5" x2="510.4" y2="75.9" stroke="#5a5a5a" stroke-width="1.8"/>
<path d="M510.4 75.9 L508 82 L506.7 86.9" stroke="#000" stroke-width="0.9" fill="none"/>
<circle cx="506.7" cy="86.9" r="1.1" fill="#000" stroke="none" stroke-width="1"/>
<path d="M510.4 75.9 Q517 67 526.6 66" stroke="#777" stroke-width="0.8" fill="none" stroke-dasharray="2 1.5"/>
<line x1="528.5" y1="66" x2="528.5" y2="83" stroke="#777" stroke-width="0.8" stroke-dasharray="2 1.5"/>
<rect x="635.6" y="84" width="30.2" height="1" fill="#000"/>
<rect x="635.6" y="87" width="30.2" height="1" fill="#000"/>
<line x1="637" y1="85" x2="663.5" y2="71.5" stroke="#000" stroke-width="1.2"/>
<rect x="673" y="81.8" width="17" height="16.1" rx="2.5" fill="#eb0f14"/>
<rect x="665.5" y="80.2" width="10.5" height="11.8" rx="4" fill="#000"/>
<rect x="684.8" y="80.2" width="5.9" height="11.8" rx="3" fill="#000"/>
<line x1="679" y1="90.5" x2="683" y2="86.5" stroke="#fff" stroke-width="1.3"/>
<line x1="680.5" y1="91.5" x2="684" y2="88" stroke="#fff" stroke-width="0.8"/>
<rect x="690.4" y="84" width="29.1" height="1" fill="#000"/>
<rect x="690.4" y="87" width="29.1" height="1" fill="#000"/>
<line x1="691.2" y1="88.8" x2="718.6" y2="100" stroke="#000" stroke-width="1.8"/>
<line x1="691.2" y1="88.8" x2="718.6" y2="100" stroke="#fff" stroke-width="0.7" stroke-dasharray="1 1"/>
<rect x="719" y="80" width="68.6" height="11.7" rx="4" fill="#000"/>
<rect x="787.4" y="85" width="44.6" height="3.7" fill="#209ba0"/>
<line x1="831" y1="87" x2="813.4" y2="76.5" stroke="#5a5a5a" stroke-width="1.8"/>
<path d="M813.4 76.5 L811 82 L810 86.9" stroke="#000" stroke-width="0.9" fill="none"/>
<circle cx="810" cy="86.9" r="1.1" fill="#000" stroke="none" stroke-width="1"/>
<path d="M813.4 76.5 Q820 67 831.5 66.3" stroke="#777" stroke-width="0.8" fill="none" stroke-dasharray="2 1.5"/>
<line x1="831.5" y1="66.3" x2="831.5" y2="83" stroke="#777" stroke-width="0.8" stroke-dasharray="2 1.5"/>
<rect x="831.8" y="85.7" width="2.8" height="2.7" fill="none" stroke="#555" stroke-width="0.8"/>
<rect x="832" y="80.7" width="85" height="10" fill="#000"/>
<rect x="917" y="80.7" width="43" height="1.4" fill="#000"/>
<rect x="914.8" y="85.3" width="45.2" height="3.8" fill="#209ba0"/>
<rect x="960" y="80.7" width="53.5" height="10" rx="2" fill="#000"/>
<rect x="1013.5" y="80.8" width="68.5" height="1.2" fill="#000"/>
<rect x="1013" y="83.4" width="19.5" height="4.8" fill="#209ba0"/>
<rect x="1062.5" y="83.4" width="19.5" height="4.8" fill="#209ba0"/>
<rect x="1034" y="81" width="3" height="9.2" fill="#000"/>
<rect x="1058.2" y="81" width="3" height="9.2" fill="#000"/>
<rect x="1037" y="83.8" width="21.2" height="1.5" fill="#000"/>
<rect x="1037" y="88.7" width="21.2" height="1.5" fill="#000"/>
<line x1="1057.5" y1="85.3" x2="1039.5" y2="75.3" stroke="#5a5a5a" stroke-width="1.7"/>
<line x1="1039.5" y1="75.3" x2="1037" y2="81" stroke="#000" stroke-width="0.8"/>
<path d="M1039.5 75.3 Q1046 66 1056 64" stroke="#777" stroke-width="0.8" fill="none" stroke-dasharray="2 1.5"/>
<line x1="1057.5" y1="77" x2="1057.5" y2="81" stroke="#777" stroke-width="0.8"/>
<rect x="1081" y="80.7" width="23" height="10" rx="2" fill="#000"/>
<rect x="1100" y="80.7" width="54" height="4.1" rx="2" fill="#000"/>
<rect x="1136" y="89.3" width="18" height="4.1" rx="2" fill="#000"/>
<rect x="208" y="646.3" width="28" height="10.4" fill="#000"/>
<rect x="210.5" y="650.8" width="23" height="1.4" fill="#fff"/>
<rect x="231.7" y="647" width="25.3" height="3.8" fill="#209ba0"/>
<rect x="280" y="647" width="25.3" height="3.8" fill="#209ba0"/>
<circle cx="256.4" cy="650" r="2.6" fill="#000" stroke="none" stroke-width="1"/>
<circle cx="279.9" cy="650" r="2.6" fill="#000" stroke="none" stroke-width="1"/>
<line x1="257.5" y1="648.5" x2="276.4" y2="639.7" stroke="#5a5a5a" stroke-width="1.7"/>
<line x1="276.4" y1="639.7" x2="279.9" y2="647" stroke="#000" stroke-width="0.8"/>
<line x1="258.5" y1="628.7" x2="258.5" y2="647.6" stroke="#777" stroke-width="0.8" stroke-dasharray="2 1.5"/>
<path d="M258.5 628.7 Q271 629 276.4 639.7" stroke="#777" stroke-width="0.8" fill="none" stroke-dasharray="2 1.5"/>
<rect x="301.4" y="646.3" width="52.6" height="10.4" rx="2" fill="#000"/>
<rect x="303.9" y="650.8" width="47.6" height="1.4" fill="#fff"/>
<rect x="353.5" y="656" width="49" height="1" fill="#000"/>
<rect x="353.5" y="650.2" width="49" height="3.9" fill="#209ba0"/>
<rect x="366.5" y="652" width="2" height="2.5" fill="#000"/>
<line x1="370" y1="641" x2="389" y2="652.6" stroke="#5a5a5a" stroke-width="1.6"/>
<line x1="367.5" y1="652" x2="370" y2="641" stroke="#000" stroke-width="0.8"/>
<line x1="389" y1="631.3" x2="389" y2="652" stroke="#777" stroke-width="0.8" stroke-dasharray="2 1.5"/>
<path d="M389 631.3 Q376 631 370 641" stroke="#777" stroke-width="0.8" fill="none" stroke-dasharray="2 1.5"/>
<rect x="402.5" y="646.3" width="78.3" height="10.4" rx="2" fill="#000"/>
<rect x="405" y="650.8" width="73.3" height="1.4" fill="#fff"/>
<rect x="477" y="656" width="55.5" height="1" fill="#000"/>
<rect x="477" y="650.2" width="55.5" height="3.9" fill="#209ba0"/>
<rect x="529.4" y="646.3" width="14.6" height="10.4" rx="2" fill="#000"/>
<rect x="531.9" y="650.8" width="9.6" height="1.4" fill="#fff"/>
<rect x="565" y="656" width="53" height="1" fill="#000"/>
<rect x="565" y="650.2" width="53" height="3.9" fill="#209ba0"/>
<rect x="602" y="652" width="2.5" height="2.5" fill="#000"/>
<line x1="583" y1="651.5" x2="600" y2="641.5" stroke="#5a5a5a" stroke-width="1.6"/>
<line x1="600" y1="641.5" x2="603.5" y2="652" stroke="#000" stroke-width="0.8"/>
<line x1="583" y1="632.5" x2="583" y2="651" stroke="#777" stroke-width="0.8" stroke-dasharray="2 1.5"/>
<path d="M583 632.5 Q596 632 600 641.5" stroke="#777" stroke-width="0.8" fill="none" stroke-dasharray="2 1.5"/>
<rect x="617" y="646.3" width="81.8" height="10.4" rx="2" fill="#000"/>
<rect x="619.5" y="650.8" width="76.8" height="1.4" fill="#fff"/>
<rect x="695.2" y="656" width="55.4" height="1" fill="#000"/>
<rect x="695.2" y="650.2" width="55.4" height="3.9" fill="#209ba0"/>
<line x1="715.4" y1="640" x2="733" y2="650.8" stroke="#5a5a5a" stroke-width="1.6"/>
<line x1="712" y1="650" x2="715.4" y2="640" stroke="#000" stroke-width="0.8"/>
<line x1="733" y1="630.5" x2="733" y2="650" stroke="#777" stroke-width="0.8" stroke-dasharray="2 1.5"/>
<path d="M733 630.5 Q722 631 715.4 640" stroke="#777" stroke-width="0.8" fill="none" stroke-dasharray="2 1.5"/>
<rect x="770.8" y="646.3" width="15.8" height="10.4" rx="2" fill="#000"/>
<rect x="773.3" y="650.8" width="10.8" height="1.4" fill="#fff"/>
<rect x="786.5" y="656" width="52.7" height="1" fill="#000"/>
<rect x="786.5" y="650.2" width="52.7" height="3.9" fill="#209ba0"/>
<rect x="835.3" y="646.3" width="78.3" height="10.4" rx="2" fill="#000"/>
<rect x="837.8" y="650.8" width="73.3" height="1.4" fill="#fff"/>
<rect x="910" y="656" width="52" height="1" fill="#000"/>
<rect x="910" y="650.2" width="52" height="3.9" fill="#209ba0"/>
<line x1="926.5" y1="651.5" x2="945" y2="641.5" stroke="#5a5a5a" stroke-width="1.6"/>
<line x1="945" y1="641.5" x2="948" y2="652" stroke="#000" stroke-width="0.8"/>
<line x1="927.5" y1="631" x2="927.5" y2="650" stroke="#777" stroke-width="0.8" stroke-dasharray="2 1.5"/>
<path d="M927.5 631 Q941 631 945 641.5" stroke="#777" stroke-width="0.8" fill="none" stroke-dasharray="2 1.5"/>
<rect x="962" y="646.3" width="51.5" height="10.4" rx="2" fill="#000"/>
<rect x="964.5" y="650.8" width="46.5" height="1.4" fill="#fff"/>
<rect x="1010" y="647.2" width="25.5" height="3.4" fill="#209ba0"/>
<rect x="1059" y="647.2" width="24.5" height="3.4" fill="#209ba0"/>
<circle cx="1035.6" cy="648.7" r="2.7" fill="#000" stroke="none" stroke-width="1"/>
<circle cx="1059" cy="648.7" r="2.7" fill="#000" stroke="none" stroke-width="1"/>
<line x1="1059" y1="648.7" x2="1039.5" y2="638.4" stroke="#5a5a5a" stroke-width="1.7"/>
<line x1="1039.5" y1="638.4" x2="1035.8" y2="647" stroke="#000" stroke-width="0.8"/>
<path d="M1039.5 638.4 Q1046 629 1057 628.4" stroke="#777" stroke-width="0.8" fill="none" stroke-dasharray="2 1.5"/>
<line x1="1057" y1="628.4" x2="1057" y2="645.5" stroke="#777" stroke-width="0.8" stroke-dasharray="2 1.5"/>
<rect x="1081" y="646.3" width="26" height="10.4" rx="2" fill="#000"/>
<rect x="1083.5" y="650.8" width="21" height="1.4" fill="#fff"/>
<rect x="1132" y="602.8" width="21.5" height="3.6" rx="1.8" fill="#000"/>
<rect x="1132" y="608.7" width="21.5" height="3.7" rx="1.8" fill="#000"/>
<rect x="193.7" y="97" width="11.1" height="75.7" fill="#000"/>
<rect x="198.55" y="99.5" width="1.4" height="70.7" fill="#fff"/>
<rect x="194.5" y="169" width="1.3" height="57" fill="#000"/>
<rect x="197" y="169.7" width="3.8" height="17.3" fill="#209ba0"/>
<rect x="197" y="208.5" width="3.8" height="16.9" fill="#209ba0"/>
<line x1="199.1" y1="208.5" x2="189" y2="190.8" stroke="#5a5a5a" stroke-width="1.7"/>
<path d="M189 190.4 Q194 187.5 199.5 187" stroke="#000" stroke-width="0.8" fill="none"/>
<path d="M189 190.8 Q180 196 178.4 206 L178.4 208.5" stroke="#777" stroke-width="0.8" fill="none" stroke-dasharray="2 1.5"/>
<rect x="193.7" y="224" width="11.1" height="32" fill="#000"/>
<rect x="198.55" y="226.5" width="1.4" height="27" fill="#fff"/>
<rect x="193.7" y="292" width="11.1" height="154" fill="#000"/>
<rect x="198.55" y="294.5" width="1.4" height="149" fill="#fff"/>
<rect x="193.7" y="480" width="11.1" height="32" fill="#000"/>
<rect x="198.55" y="482.5" width="1.4" height="27" fill="#fff"/>
<rect x="194.5" y="511" width="1.3" height="55" fill="#000"/>
<rect x="197" y="511.7" width="3.8" height="15.9" fill="#209ba0"/>
<rect x="197" y="549.6" width="3.8" height="17.9" fill="#209ba0"/>
<line x1="198.9" y1="527.6" x2="189.8" y2="545.6" stroke="#5a5a5a" stroke-width="1.7"/>
<path d="M189.8 545.6 Q194 548.5 199 549.6" stroke="#000" stroke-width="0.8" fill="none"/>
<path d="M177.8 529.6 Q179 543 189.8 545.6" stroke="#777" stroke-width="0.8" fill="none" stroke-dasharray="2 1.5"/>
<line x1="177.8" y1="529.6" x2="196" y2="529.6" stroke="#777" stroke-width="0.8" stroke-dasharray="2 1.5"/>
<rect x="193.7" y="564.5" width="11.1" height="75.5" fill="#000"/>
<rect x="198.55" y="567" width="1.4" height="70.5" fill="#fff"/>
<rect x="1110.2" y="96" width="4.7" height="545" fill="#000"/>
<rect x="1116.1" y="96" width="2.8" height="545" fill="#000"/>
<rect x="1122.3" y="96" width="4.8" height="545" fill="#000"/>
<rect x="1131" y="96" width="4.8" height="545" fill="#000"/>
<rect x="328" y="138" width="4.8" height="119" fill="#000"/>
<rect x="337.2" y="138" width="4.8" height="119" fill="#000"/>
<rect x="328" y="291" width="4.8" height="13.5" fill="#000"/>
<rect x="337.2" y="291" width="4.8" height="7.4" fill="#000"/>
<rect x="328" y="300.2" width="14" height="4.3" fill="#000"/>
<path d="M341.6 299.3 L416.5 299.3 L416.5 317.4 L433.6 317.4" stroke="#000" stroke-width="10.4" fill="none" stroke-linejoin="miter" stroke-linecap="butt"/>
<path d="M341.6 299.3 L416.5 299.3 L416.5 317.4 L431.4 317.4" stroke="#fff" stroke-width="1.8" fill="none" stroke-linejoin="miter"/>
<rect x="433.4" y="314.3" width="25.4" height="0.9" fill="#000"/>
<rect x="433.4" y="316.4" width="25.4" height="0.9" fill="#000"/>
<line x1="457.3" y1="318" x2="435.9" y2="330.3" stroke="#000" stroke-width="0.9"/>
<rect x="464.7" y="235.7" width="6.9" height="33.9" rx="1" fill="#000"/>
<rect x="466.3" y="269.6" width="0.9" height="18.9" fill="#000"/>
<rect x="469.1" y="269.6" width="0.9" height="18.9" fill="#000"/>
<line x1="468" y1="271" x2="463" y2="287.5" stroke="#333" stroke-width="1.6"/>
<line x1="468" y1="271" x2="463" y2="287.5" stroke="#fff" stroke-width="0.6" stroke-dasharray="1 1"/>
<rect x="464.7" y="288.5" width="6.9" height="28.9" rx="1" fill="#000"/>
<path d="M458.5 317.4 L541 317.4" stroke="#000" stroke-width="10" fill="none" stroke-linejoin="miter" stroke-linecap="butt"/>
<path d="M460.7 317.4 L538.8 317.4" stroke="#fff" stroke-width="1.4" fill="none" stroke-linejoin="miter"/>
<rect x="364.4" y="300.2" width="10.1" height="9.8" rx="1.5" fill="#000"/>
<rect x="364.4" y="336" width="10.1" height="21" rx="1.5" fill="#000"/>
<rect x="364.4" y="381.6" width="10.1" height="10.2" rx="1.5" fill="#000"/>
<rect x="367" y="310" width="0.9" height="26" fill="#000"/>
<rect x="370.1" y="310" width="0.9" height="26" fill="#000"/>
<rect x="367" y="357" width="0.9" height="24.6" fill="#000"/>
<rect x="370.1" y="357" width="0.9" height="24.6" fill="#000"/>
<line x1="370.9" y1="311.9" x2="383.8" y2="333.3" stroke="#000" stroke-width="0.9"/>
<line x1="370.9" y1="380" x2="383.8" y2="359" stroke="#000" stroke-width="0.9"/>
<path d="M200.5 346.35 L369 346.35" stroke="#000" stroke-width="11.1" fill="none" stroke-linejoin="miter" stroke-linecap="butt"/>
<path d="M201.5 346.35 L368 346.35" stroke="#fff" stroke-width="1.3" fill="none" stroke-linejoin="miter"/>
<rect x="208.7" y="268.2" width="79.9" height="7.2" fill="#000"/>
<rect x="281.3" y="268.2" width="7.3" height="17.5" rx="1" fill="#000"/>
<rect x="283.3" y="285.7" width="0.9" height="18.6" fill="#000"/>
<rect x="285.9" y="285.7" width="0.9" height="18.6" fill="#000"/>
<line x1="286" y1="287" x2="293" y2="305" stroke="#000" stroke-width="0.9"/>
<rect x="281.4" y="304.3" width="7" height="83.3" rx="1" fill="#000"/>
<rect x="283.3" y="387.6" width="0.9" height="20" fill="#000"/>
<rect x="285.9" y="387.6" width="0.9" height="20" fill="#000"/>
<line x1="286" y1="405" x2="293" y2="390" stroke="#333" stroke-width="1.6"/>
<line x1="286" y1="405" x2="293" y2="390" stroke="#fff" stroke-width="0.6" stroke-dasharray="1 1"/>
<rect x="281.4" y="407.6" width="7" height="17.9" rx="1" fill="#000"/>
<rect x="204.7" y="418.5" width="83.7" height="7" fill="#000"/>
<path d="M333.8 445 L333.8 392.3 L416.5 392.3 L416.5 376.6 L518.4 376.6" stroke="#000" stroke-width="9.7" fill="none" stroke-linejoin="miter" stroke-linecap="butt"/>
<path d="M333.8 442.8 L333.8 392.3 L416.5 392.3 L416.5 376.6 L516.2 376.6" stroke="#fff" stroke-width="1.3" fill="none" stroke-linejoin="miter"/>
<rect x="328" y="480" width="4.8" height="119" fill="#000"/>
<rect x="337.2" y="480" width="4.8" height="119" fill="#000"/>
<rect x="364.8" y="382.4" width="9.4" height="9.4" rx="1.5" fill="#000"/>
<rect x="411" y="396" width="7.3" height="26.2" rx="1" fill="#000"/>
<rect x="413" y="422.2" width="0.9" height="19.5" fill="#000"/>
<rect x="415.6" y="422.2" width="0.9" height="19.5" fill="#000"/>
<line x1="416" y1="440" x2="424" y2="426" stroke="#000" stroke-width="0.9"/>
<rect x="411" y="441.7" width="7.3" height="23.3" rx="1" fill="#000"/>
<rect x="337.3" y="458.3" width="81" height="6.7" fill="#000"/>
<rect x="518.2" y="374.2" width="25.3" height="0.9" fill="#000"/>
<rect x="518.2" y="376.9" width="25.3" height="0.9" fill="#000"/>
<line x1="543" y1="373.5" x2="521" y2="361" stroke="#000" stroke-width="0.9"/>
<path d="M597 376.35 L793.5 376.35" stroke="#000" stroke-width="11.1" fill="none" stroke-linejoin="miter" stroke-linecap="butt"/>
<path d="M599.2 376.35 L791.3 376.35" stroke="#fff" stroke-width="1.4" fill="none" stroke-linejoin="miter"/>
<rect x="793" y="374.2" width="27.5" height="0.9" fill="#000"/>
<rect x="793" y="376.9" width="27.5" height="0.9" fill="#000"/>
<line x1="818.5" y1="372.5" x2="796" y2="361" stroke="#000" stroke-width="0.9"/>
<path d="M820 376.4 L899.6 376.4 L899.6 392.3 L982.4 392.3 L982.4 449" stroke="#000" stroke-width="9.7" fill="none" stroke-linejoin="miter" stroke-linecap="butt"/>
<path d="M822.2 376.4 L899.6 376.4 L899.6 392.3 L982.4 392.3 L982.4 446.8" stroke="#fff" stroke-width="1.3" fill="none" stroke-linejoin="miter"/>
<rect x="650.8" y="377" width="5" height="271" fill="#000"/>
<rect x="659.8" y="377" width="5" height="271" fill="#000"/>
<rect x="655.8" y="376.6" width="4" height="5.9" fill="#fff"/>
<rect x="655.8" y="645.5" width="4" height="6.1" fill="#fff"/>
<rect x="941.4" y="381.7" width="10.2" height="10.8" rx="1.5" fill="#000"/>
<rect x="901.7" y="398" width="7.2" height="24.2" rx="1" fill="#000"/>
<rect x="903.7" y="422.2" width="0.9" height="19.5" fill="#000"/>
<rect x="906.1" y="422.2" width="0.9" height="19.5" fill="#000"/>
<line x1="904" y1="440" x2="895" y2="423" stroke="#000" stroke-width="0.9"/>
<rect x="901.7" y="441.7" width="7.2" height="35.4" rx="1" fill="#000"/>
<rect x="901.7" y="470.6" width="76.6" height="6.5" fill="#000"/>
<rect x="973" y="479" width="5" height="120" fill="#000"/>
<rect x="982" y="479" width="5" height="120" fill="#000"/>
<rect x="843.7" y="235.7" width="7.9" height="32.9" rx="1" fill="#000"/>
<rect x="845.7" y="268.6" width="0.9" height="19.9" fill="#000"/>
<rect x="848.6" y="268.6" width="0.9" height="19.9" fill="#000"/>
<line x1="848" y1="271" x2="857.5" y2="288" stroke="#000" stroke-width="0.9"/>
<rect x="843.7" y="288.5" width="7.9" height="28.9" rx="1" fill="#000"/>
<path d="M772 317.4 L857.8 317.4" stroke="#000" stroke-width="10" fill="none" stroke-linejoin="miter" stroke-linecap="butt"/>
<path d="M774.2 317.4 L855.6 317.4" stroke="#fff" stroke-width="1.4" fill="none" stroke-linejoin="miter"/>
<rect x="857.4" y="314.3" width="26.4" height="0.9" fill="#000"/>
<rect x="857.4" y="316.4" width="26.4" height="0.9" fill="#000"/>
<line x1="858" y1="318" x2="880" y2="330.5" stroke="#000" stroke-width="0.9"/>
<path d="M883.4 317.4 L899.6 317.4 L899.6 299.4 L974.2 299.4" stroke="#000" stroke-width="10.5" fill="none" stroke-linejoin="miter" stroke-linecap="butt"/>
<path d="M885.6 317.4 L899.6 317.4 L899.6 299.4 L973.4 299.4" stroke="#fff" stroke-width="2.1" fill="none" stroke-linejoin="miter"/>
<rect x="973.35" y="138" width="4.55" height="119" fill="#000"/>
<rect x="982.1" y="138" width="4.55" height="119" fill="#000"/>
<rect x="973.4" y="288" width="4.6" height="10.3" fill="#000"/>
<rect x="982.2" y="288" width="4.5" height="16.6" fill="#000"/>
<rect x="973.4" y="300.4" width="13.3" height="4.2" fill="#000"/>
<rect x="941.5" y="300" width="10" height="10" rx="1.5" fill="#000"/>
<rect x="941.5" y="336" width="10" height="21" rx="1.5" fill="#000"/>
<rect x="941.5" y="381.6" width="10" height="10" rx="1.5" fill="#000"/>
<rect x="944.3" y="310" width="0.9" height="26" fill="#000"/>
<rect x="947.4" y="310" width="0.9" height="26" fill="#000"/>
<rect x="944.3" y="357" width="0.9" height="24.6" fill="#000"/>
<rect x="947.4" y="357" width="0.9" height="24.6" fill="#000"/>
<line x1="944.5" y1="313" x2="932" y2="333" stroke="#000" stroke-width="0.9"/>
<line x1="944.5" y1="380" x2="932" y2="360" stroke="#000" stroke-width="0.9"/>
<path d="M946 346.35 L1110.5 346.35" stroke="#000" stroke-width="11.1" fill="none" stroke-linejoin="miter" stroke-linecap="butt"/>
<path d="M947 346.35 L1109.5 346.35" stroke="#fff" stroke-width="1.3" fill="none" stroke-linejoin="miter"/>
<rect x="1028.6" y="268.4" width="74.9" height="7" fill="#000"/>
<rect x="1028.6" y="268.4" width="7.9" height="16.9" rx="1" fill="#000"/>
<rect x="1030.6" y="285.3" width="0.9" height="19.7" fill="#000"/>
<rect x="1033.4" y="285.3" width="0.9" height="19.7" fill="#000"/>
<line x1="1033" y1="287" x2="1025" y2="303" stroke="#000" stroke-width="0.9"/>
<rect x="1029" y="305" width="7.5" height="82.6" rx="1" fill="#000"/>
<rect x="1030.6" y="387.6" width="0.9" height="19.9" fill="#000"/>
<rect x="1033.4" y="387.6" width="0.9" height="19.9" fill="#000"/>
<line x1="1033" y1="405" x2="1025" y2="390" stroke="#333" stroke-width="1.6"/>
<line x1="1033" y1="405" x2="1025" y2="390" stroke="#fff" stroke-width="0.6" stroke-dasharray="1 1"/>
<rect x="1029" y="407.5" width="7.7" height="24.5" rx="1" fill="#000"/>
<rect x="1029" y="424.6" width="83" height="7.4" fill="#000"/>
<rect x="193.3" y="80.2" width="18.7" height="17.8" rx="3" fill="#eb0f14"/>
<line x1="200.05" y1="91.3" x2="204.85" y2="86.5" stroke="#fff" stroke-width="1.3"/>
<line x1="201.25" y1="92.1" x2="205.65" y2="87.7" stroke="#fff" stroke-width="1"/>
<line x1="200.45" y1="86.9" x2="204.85" y2="91.3" stroke="#fff" stroke-width="0.9" stroke-dasharray="1 0.8"/>
<rect x="327.2" y="88.6" width="15.5" height="50.4" rx="2" fill="#eb0f14"/>
<line x1="334.95" y1="91.6" x2="334.95" y2="136" stroke="#fff" stroke-width="2.2" stroke-dasharray="1.2 1.2"/>
<rect x="330.5" y="81" width="9" height="10" fill="#7a1010"/>
<line x1="335" y1="82" x2="335" y2="91" stroke="#fff" stroke-width="1.6" stroke-dasharray="1 1"/>
<rect x="193.4" y="255.6" width="15.3" height="36.9" rx="3.5" fill="#eb0f14"/>
<line x1="201.05" y1="258.6" x2="201.05" y2="289.5" stroke="#fff" stroke-width="2.2" stroke-dasharray="1.2 1.2"/>
<rect x="327" y="255.6" width="15.5" height="36.9" rx="3.5" fill="#eb0f14"/>
<line x1="334.75" y1="258.6" x2="334.75" y2="289.5" stroke="#fff" stroke-width="2.2" stroke-dasharray="1.2 1.2"/>
<rect x="193.3" y="445" width="15.4" height="35.8" rx="3.5" fill="#eb0f14"/>
<line x1="201" y1="448" x2="201" y2="477.8" stroke="#fff" stroke-width="2.2" stroke-dasharray="1.2 1.2"/>
<rect x="327.2" y="445" width="15.5" height="35.8" rx="3.5" fill="#eb0f14"/>
<line x1="334.95" y1="448" x2="334.95" y2="477.8" stroke="#fff" stroke-width="2.2" stroke-dasharray="1.2 1.2"/>
<rect x="193.3" y="639.1" width="18.2" height="18.3" rx="3" fill="#eb0f14"/>
<line x1="199.8" y1="650.45" x2="204.6" y2="645.65" stroke="#fff" stroke-width="1.3"/>
<line x1="201" y1="651.25" x2="205.4" y2="646.85" stroke="#fff" stroke-width="1"/>
<line x1="200.2" y1="646.05" x2="204.6" y2="650.45" stroke="#fff" stroke-width="0.9" stroke-dasharray="1 0.8"/>
<rect x="327.4" y="597.8" width="15.7" height="50.6" rx="2" fill="#eb0f14"/>
<line x1="335.25" y1="600.8" x2="335.25" y2="645.4" stroke="#fff" stroke-width="2.2" stroke-dasharray="1.2 1.2"/>
<rect x="331" y="646" width="8.5" height="10.5" fill="#7a1010"/>
<line x1="335.2" y1="646" x2="335.2" y2="655.5" stroke="#fff" stroke-width="1.6" stroke-dasharray="1 1"/>
<rect x="972" y="88.6" width="16" height="49.9" rx="2" fill="#eb0f14"/>
<line x1="980" y1="91.6" x2="980" y2="135.5" stroke="#fff" stroke-width="2.2" stroke-dasharray="1.2 1.2"/>
<rect x="975.5" y="81" width="9" height="10" fill="#7a1010"/>
<line x1="980" y1="82" x2="980" y2="91" stroke="#fff" stroke-width="1.6" stroke-dasharray="1 1"/>
<rect x="972" y="255.6" width="15.5" height="35.9" rx="3.5" fill="#eb0f14"/>
<line x1="979.75" y1="258.6" x2="979.75" y2="288.5" stroke="#fff" stroke-width="2.2" stroke-dasharray="1.2 1.2"/>
<rect x="972.3" y="445.5" width="15.5" height="34.5" rx="3.5" fill="#eb0f14"/>
<line x1="980.05" y1="448.5" x2="980.05" y2="477" stroke="#fff" stroke-width="2.2" stroke-dasharray="1.2 1.2"/>
<rect x="971.6" y="598" width="16.7" height="50.4" rx="2" fill="#eb0f14"/>
<line x1="979.95" y1="601" x2="979.95" y2="645.4" stroke="#fff" stroke-width="2.2" stroke-dasharray="1.2 1.2"/>
<rect x="975.5" y="646" width="9" height="10.5" fill="#7a1010"/>
<line x1="980" y1="646" x2="980" y2="655.5" stroke="#fff" stroke-width="1.6" stroke-dasharray="1 1"/>
<rect x="1103" y="81.7" width="16" height="15.9" rx="3" fill="#eb0f14"/>
<line x1="1108.4" y1="91.85" x2="1113.2" y2="87.05" stroke="#fff" stroke-width="1.3"/>
<line x1="1109.6" y1="92.65" x2="1114" y2="88.25" stroke="#fff" stroke-width="1"/>
<line x1="1108.8" y1="87.45" x2="1113.2" y2="91.85" stroke="#fff" stroke-width="0.9" stroke-dasharray="1 0.8"/>
<rect x="1120.8" y="81.7" width="19.2" height="15.9" rx="3" fill="#eb0f14"/>
<line x1="1127.8" y1="91.85" x2="1132.6" y2="87.05" stroke="#fff" stroke-width="1.3"/>
<line x1="1129" y1="92.65" x2="1133.4" y2="88.25" stroke="#fff" stroke-width="1"/>
<line x1="1128.2" y1="87.45" x2="1132.6" y2="91.85" stroke="#fff" stroke-width="0.9" stroke-dasharray="1 0.8"/>
<rect x="1103" y="265" width="16" height="18.7" rx="3" fill="#eb0f14"/>
<line x1="1108.4" y1="276.55" x2="1113.2" y2="271.75" stroke="#fff" stroke-width="1.3"/>
<line x1="1109.6" y1="277.35" x2="1114" y2="272.95" stroke="#fff" stroke-width="1"/>
<line x1="1108.8" y1="272.15" x2="1113.2" y2="276.55" stroke="#fff" stroke-width="0.9" stroke-dasharray="1 0.8"/>
<rect x="1120.8" y="265" width="19.2" height="18.7" rx="3" fill="#eb0f14"/>
<line x1="1127.8" y1="276.55" x2="1132.6" y2="271.75" stroke="#fff" stroke-width="1.3"/>
<line x1="1129" y1="277.35" x2="1133.4" y2="272.95" stroke="#fff" stroke-width="1"/>
<line x1="1128.2" y1="272.15" x2="1132.6" y2="276.55" stroke="#fff" stroke-width="0.9" stroke-dasharray="1 0.8"/>
<rect x="1103" y="454.4" width="16" height="16.7" rx="3" fill="#eb0f14"/>
<line x1="1108.4" y1="464.95" x2="1113.2" y2="460.15" stroke="#fff" stroke-width="1.3"/>
<line x1="1109.6" y1="465.75" x2="1114" y2="461.35" stroke="#fff" stroke-width="1"/>
<line x1="1108.8" y1="460.55" x2="1113.2" y2="464.95" stroke="#fff" stroke-width="0.9" stroke-dasharray="1 0.8"/>
<rect x="1120.8" y="454.4" width="19.2" height="16.7" rx="3" fill="#eb0f14"/>
<line x1="1127.8" y1="464.95" x2="1132.6" y2="460.15" stroke="#fff" stroke-width="1.3"/>
<line x1="1129" y1="465.75" x2="1133.4" y2="461.35" stroke="#fff" stroke-width="1"/>
<line x1="1128.2" y1="460.55" x2="1132.6" y2="464.95" stroke="#fff" stroke-width="0.9" stroke-dasharray="1 0.8"/>
<rect x="1103" y="639.6" width="16" height="15.6" rx="3" fill="#eb0f14"/>
<line x1="1108.4" y1="649.6" x2="1113.2" y2="644.8" stroke="#fff" stroke-width="1.3"/>
<line x1="1109.6" y1="650.4" x2="1114" y2="646" stroke="#fff" stroke-width="1"/>
<line x1="1108.8" y1="645.2" x2="1113.2" y2="649.6" stroke="#fff" stroke-width="0.9" stroke-dasharray="1 0.8"/>
<rect x="1120.8" y="639.6" width="19.2" height="15.6" rx="3" fill="#eb0f14"/>
<line x1="1127.8" y1="649.6" x2="1132.6" y2="644.8" stroke="#fff" stroke-width="1.3"/>
<line x1="1129" y1="650.4" x2="1133.4" y2="646" stroke="#fff" stroke-width="1"/>
<line x1="1128.2" y1="645.2" x2="1132.6" y2="649.6" stroke="#fff" stroke-width="0.9" stroke-dasharray="1 0.8"/>
<rect x="519.2" y="455" width="56.8" height="15.8" rx="3.5" fill="#eb0f14"/>
<rect x="525.7" y="456.5" width="43.8" height="5.5" fill="#a80c0c"/>
<line x1="526.2" y1="463.2" x2="569" y2="463.2" stroke="#fff" stroke-width="1.8" stroke-dasharray="1.2 1.2"/>
<rect x="539.55" y="465" width="4.75" height="95" fill="#000"/>
<rect x="549.3" y="465" width="4.75" height="95" fill="#000"/>
<rect x="539.3" y="557.5" width="15" height="99.5" rx="2.5" fill="#eb0f14"/>
<rect x="539.3" y="641.7" width="29.9" height="15.9" rx="2.5" fill="#eb0f14"/>
<line x1="546.8" y1="561" x2="546.8" y2="650" stroke="#fff" stroke-width="2" stroke-dasharray="1.2 1.2"/>
<line x1="546.8" y1="650" x2="566.2" y2="650" stroke="#fff" stroke-width="2" stroke-dasharray="1.2 1.2"/>
<rect x="539.3" y="651" width="29.9" height="6.6" rx="2" fill="#b01016"/>
<rect x="739.6" y="455" width="56.8" height="15.8" rx="3.5" fill="#eb0f14"/>
<rect x="746.1" y="456.5" width="43.8" height="5.5" fill="#a80c0c"/>
<line x1="746.6" y1="463.2" x2="789.4" y2="463.2" stroke="#fff" stroke-width="1.8" stroke-dasharray="1.2 1.2"/>
<rect x="760.6" y="465" width="4.75" height="95" fill="#000"/>
<rect x="770.35" y="465" width="4.75" height="95" fill="#000"/>
<rect x="760.4" y="557.5" width="14.9" height="99.5" rx="2.5" fill="#eb0f14"/>
<rect x="746.5" y="641.7" width="28.8" height="15.9" rx="2.5" fill="#eb0f14"/>
<line x1="767.85" y1="561" x2="767.85" y2="650" stroke="#fff" stroke-width="2" stroke-dasharray="1.2 1.2"/>
<line x1="749.5" y1="650" x2="767.85" y2="650" stroke="#fff" stroke-width="2" stroke-dasharray="1.2 1.2"/>
<rect x="746.5" y="651" width="28.8" height="6.6" rx="2" fill="#b01016"/>
<rect x="529.4" y="646.3" width="15.1" height="10.4" rx="2" fill="#000"/>
<rect x="531.9" y="650.8" width="10.1" height="1.4" fill="#fff"/>
<rect x="770.5" y="646.3" width="16.1" height="10.4" rx="2" fill="#000"/>
<rect x="773" y="650.8" width="11.1" height="1.4" fill="#fff"/>
<rect x="539" y="81" width="80.6" height="13" fill="#eb0f14"/>
<rect x="539" y="81" width="16" height="242.5" fill="#eb0f14"/>
<rect x="607.7" y="81" width="11.9" height="93.6" fill="#eb0f14"/>
<rect x="549" y="162.6" width="19" height="12" rx="3" fill="#eb0f14"/>
<rect x="595.7" y="162.6" width="23.9" height="12" rx="3" fill="#eb0f14"/>
<rect x="549" y="241.8" width="19" height="8.2" rx="3" fill="#eb0f14"/>
<rect x="595.7" y="241.8" width="25.9" height="8.2" rx="3" fill="#eb0f14"/>
<rect x="609.7" y="241.8" width="11.9" height="81.7" fill="#eb0f14"/>
<rect x="539" y="310.6" width="82.6" height="12.9" fill="#eb0f14"/>
<line x1="546.5" y1="88" x2="546.5" y2="312" stroke="#fff" stroke-width="1.4" stroke-dasharray="1 1"/>
<line x1="547" y1="88" x2="612" y2="88" stroke="#fff" stroke-width="1.4" stroke-dasharray="1 1"/>
<rect x="527.4" y="80" width="17.1" height="12" rx="3" fill="#000"/>
<rect x="614.5" y="80.2" width="21.5" height="11.8" rx="4" fill="#000"/>
<rect x="562.5" y="95.5" width="34" height="56" fill="none" stroke="#5a0a0a" stroke-width="1.6"/>
<line x1="562.5" y1="95.5" x2="596.5" y2="151.5" stroke="#5a0a0a" stroke-width="0.8"/>
<line x1="562.5" y1="151.5" x2="596.5" y2="95.5" stroke="#5a0a0a" stroke-width="0.8"/>
<line x1="560" y1="153.8" x2="598" y2="153.8" stroke="#5a0a0a" stroke-width="0.8"/>
<line x1="560" y1="156.5" x2="598" y2="156.5" stroke="#5a0a0a" stroke-width="0.8"/>
<line x1="560" y1="159.2" x2="598" y2="159.2" stroke="#5a0a0a" stroke-width="0.8"/>
<line x1="560" y1="161.6" x2="598" y2="161.6" stroke="#5a0a0a" stroke-width="0.8"/>
<line x1="568" y1="153.5" x2="568" y2="161.8" stroke="#5a0a0a" stroke-width="0.8"/>
<line x1="586" y1="153.5" x2="586" y2="161.8" stroke="#5a0a0a" stroke-width="0.8"/>
<rect x="600.5" y="117" width="6" height="32" fill="none" stroke="#5a0a0a" stroke-width="1"/>
<rect x="601.5" y="121" width="4" height="2.5" fill="#5a0a0a"/>
<rect x="601.5" y="126" width="4" height="2.5" fill="#5a0a0a"/>
<rect x="601.5" y="131" width="4" height="2.5" fill="#5a0a0a"/>
<rect x="601.5" y="136" width="4" height="2.5" fill="#5a0a0a"/>
<rect x="601.5" y="141" width="4" height="2.5" fill="#5a0a0a"/>
<rect x="563.5" y="263" width="34" height="29.5" fill="none" stroke="#5a0a0a" stroke-width="1.6"/>
<line x1="563.5" y1="263" x2="597.5" y2="292.5" stroke="#5a0a0a" stroke-width="0.8"/>
<line x1="563.5" y1="292.5" x2="597.5" y2="263" stroke="#5a0a0a" stroke-width="0.8"/>
<line x1="560" y1="253.5" x2="597" y2="253.5" stroke="#5a0a0a" stroke-width="0.8"/>
<line x1="560" y1="256" x2="597" y2="256" stroke="#5a0a0a" stroke-width="0.8"/>
<line x1="560" y1="258.5" x2="597" y2="258.5" stroke="#5a0a0a" stroke-width="0.8"/>
<line x1="560" y1="253.5" x2="566" y2="251.5" stroke="#5a0a0a" stroke-width="0.8"/>
<line x1="566" y1="251.5" x2="597" y2="251.5" stroke="#5a0a0a" stroke-width="0.8"/>
<line x1="565" y1="296.5" x2="597" y2="296.5" stroke="#5a0a0a" stroke-width="1.3"/>
<line x1="565" y1="294" x2="565" y2="302" stroke="#5a0a0a" stroke-width="1.3"/>
<line x1="597" y1="294" x2="597" y2="302" stroke="#5a0a0a" stroke-width="1.3"/>
<line x1="567" y1="298.5" x2="595" y2="298.5" stroke="#5a0a0a" stroke-width="0.8"/>
<rect x="614.7" y="101" width="12.9" height="23" rx="2.5" fill="#000"/>
<rect x="620" y="106" width="1.5" height="9" fill="#eb0f14"/>
<rect x="614.7" y="159.7" width="15.9" height="13.9" rx="2.5" fill="#000"/>
<rect x="616.7" y="270.7" width="14.9" height="13" rx="2.5" fill="#000"/>
<rect x="617" y="314.5" width="8" height="8" rx="2.5" fill="#000"/>
<line x1="631.5" y1="276" x2="651" y2="265.5" stroke="#5a5a5a" stroke-width="1.6"/>
<line x1="665.5" y1="276" x2="656" y2="268.5" stroke="#5a5a5a" stroke-width="1.6"/>
<path d="M631.5 263 L631.5 276" stroke="#777" stroke-width="0.8" fill="none" stroke-dasharray="2 1.5"/>
<path d="M631.5 263 Q643 262 651 265.5" stroke="#777" stroke-width="0.8" fill="none" stroke-dasharray="2 1.5"/>
<path d="M656 268.5 L657 265 L666 265 L666 276" stroke="#777" stroke-width="0.8" fill="none" stroke-dasharray="2 1.5"/>
<line x1="625" y1="285" x2="630" y2="295" stroke="#000" stroke-width="0.8"/>
<path d="M626 295 L631 310.5 L668 310.5" stroke="#000" stroke-width="0.9" fill="none"/>
<line x1="628" y1="323" x2="672" y2="323" stroke="#000" stroke-width="0.9"/>
<line x1="674" y1="285" x2="672" y2="312" stroke="#000" stroke-width="0.8"/>
<rect x="678.4" y="97.5" width="12.1" height="177.2" fill="#000"/>
<rect x="673.4" y="265.7" width="95.6" height="9" fill="#eb0f14"/>
<rect x="760.5" y="89.5" width="15.5" height="234" fill="#eb0f14"/>
<rect x="764" y="82" width="9" height="9.5" fill="#7a1010"/>
<line x1="768.3" y1="83" x2="768.3" y2="320" stroke="#fff" stroke-width="1.6" stroke-dasharray="1 1.2"/>
<line x1="680" y1="270.2" x2="766" y2="270.2" stroke="#fff" stroke-width="1.2" stroke-dasharray="1 1.2"/>
<line x1="690.4" y1="146" x2="760.5" y2="146" stroke="#000" stroke-width="1"/>
<line x1="690.4" y1="155" x2="760.5" y2="155" stroke="#000" stroke-width="1"/>
<line x1="690.4" y1="164" x2="760.5" y2="164" stroke="#000" stroke-width="1"/>
<line x1="690.4" y1="173" x2="760.5" y2="173" stroke="#000" stroke-width="1"/>
<line x1="690.4" y1="182" x2="760.5" y2="182" stroke="#000" stroke-width="1"/>
<line x1="690.4" y1="191" x2="760.5" y2="191" stroke="#000" stroke-width="1"/>
<line x1="690.4" y1="200" x2="760.5" y2="200" stroke="#000" stroke-width="1"/>
<line x1="690.4" y1="209" x2="760.5" y2="209" stroke="#000" stroke-width="1"/>
<line x1="690.4" y1="218" x2="760.5" y2="218" stroke="#000" stroke-width="1"/>
<line x1="690.4" y1="227" x2="760.5" y2="227" stroke="#000" stroke-width="1"/>
<line x1="690.4" y1="236" x2="760.5" y2="236" stroke="#000" stroke-width="1"/>
<line x1="705" y1="145.7" x2="705" y2="252.8" stroke="#000" stroke-width="0.9"/>
<line x1="746.7" y1="145.7" x2="746.7" y2="252.8" stroke="#000" stroke-width="0.9"/>
<line x1="704.5" y1="252.8" x2="747.2" y2="252.8" stroke="#000" stroke-width="0.9"/>
<rect x="722.3" y="144.7" width="5.5" height="90.7" fill="#fff" stroke="#000" stroke-width="0.9"/>
<circle cx="705" cy="145.3" r="1.6" fill="#fff" stroke="#000" stroke-width="0.8"/>
<rect x="703.7" y="187" width="2.6" height="6" fill="#000"/>
<rect x="745.5" y="178.5" width="2.5" height="7.5" fill="#000"/>
<line x1="691" y1="206" x2="721" y2="199.5" stroke="#000" stroke-width="0.9"/>
<line x1="691" y1="208" x2="721" y2="201.5" stroke="#000" stroke-width="0.9"/>
<rect x="760.5" y="275" width="6.5" height="39" fill="#2e8b3e"/>
<rect x="693" y="276.5" width="73.7" height="5.1" fill="#2e8b3e"/>
<rect x="693" y="280.8" width="67" height="1" fill="#7a2a10"/>
<rect x="665.2" y="271" width="16.4" height="9.8" rx="1.5" fill="#000"/>
<rect x="673.4" y="279" width="8.2" height="10.4" fill="#000"/>
<rect x="675" y="288" width="1.1" height="29" fill="#000"/>
<rect x="682" y="276" width="5.1" height="41.2" fill="#000"/>
<rect x="688.3" y="276" width="4.8" height="40" fill="#000"/>
<rect x="702" y="276" width="7.5" height="36" rx="1.2" fill="#000"/>
<rect x="743" y="276" width="7.5" height="36" rx="1.2" fill="#000"/>
<rect x="702" y="293" width="48.5" height="11" fill="#000"/>
<line x1="706" y1="298.6" x2="746" y2="298.6" stroke="#fff" stroke-width="0.9"/>
<rect x="688.3" y="312" width="73.7" height="4" fill="#000"/>
<rect x="671.8" y="317.2" width="104.2" height="5.2" fill="#000"/>
<rect x="204.8" y="297.1" width="17.5" height="47.7" fill="#000"/>
<rect x="207" y="300" width="13" height="18" fill="#2e8b3e"/>
<rect x="208.5" y="301.5" width="10" height="15" fill="#1414d8"/>
<rect x="212.3" y="307.8" width="2.4" height="2.4" fill="#fff"/>
<rect x="207" y="320" width="13" height="14" fill="#2e8b3e"/>
<rect x="208.5" y="321.5" width="10" height="11" fill="#1414d8"/>
<rect x="212.3" y="325.8" width="2.4" height="2.4" fill="#fff"/>
<rect x="208" y="338.5" width="4" height="1.5" fill="#fff"/>
<rect x="213" y="338" width="5" height="3.5" fill="#2e8b3e"/>
<rect x="204" y="374.7" width="18" height="47.8" fill="#000"/>
<rect x="207" y="377.7" width="11" height="4.3" fill="#2e8b3e"/>
<rect x="207" y="388.6" width="13" height="13.4" fill="#2e8b3e"/>
<rect x="208.5" y="390.1" width="10" height="10.4" fill="#1414d8"/>
<rect x="212.3" y="394.1" width="2.4" height="2.4" fill="#fff"/>
<rect x="207" y="404.6" width="13" height="15.9" fill="#2e8b3e"/>
<rect x="208.5" y="406.1" width="10" height="12.9" fill="#1414d8"/>
<rect x="212.3" y="411.35" width="2.4" height="2.4" fill="#fff"/>
<rect x="493.5" y="300.3" width="50.5" height="14.4" fill="#000"/>
<rect x="497" y="304.8" width="16.3" height="9.9" fill="#2e8b3e"/>
<rect x="498.5" y="306.3" width="13.3" height="6.9" fill="#1414d8"/>
<rect x="503.95" y="308.55" width="2.4" height="2.4" fill="#fff"/>
<rect x="518.8" y="304.8" width="19.9" height="9.9" fill="#2e8b3e"/>
<rect x="520.3" y="306.3" width="16.9" height="6.9" fill="#1414d8"/>
<rect x="527.55" y="308.55" width="2.4" height="2.4" fill="#fff"/>
<rect x="538.9" y="304.8" width="4.1" height="6.2" fill="#2e8b3e"/>
<rect x="338.5" y="394" width="45.8" height="16.5" fill="#000"/>
<rect x="339.5" y="395.3" width="15.9" height="11.4" fill="#2e8b3e"/>
<rect x="341" y="396.8" width="12.9" height="8.4" fill="#1414d8"/>
<rect x="346.25" y="399.8" width="2.4" height="2.4" fill="#fff"/>
<rect x="357.6" y="395.3" width="12.3" height="11.4" fill="#2e8b3e"/>
<rect x="359.1" y="396.8" width="9.3" height="8.4" fill="#1414d8"/>
<rect x="362.55" y="399.8" width="2.4" height="2.4" fill="#fff"/>
<rect x="377.8" y="397" width="5.1" height="8.5" fill="#2e8b3e"/>
<rect x="543" y="370.7" width="54" height="18.9" fill="#000"/>
<rect x="549" y="374.2" width="29" height="9.8" fill="#2e8b3e"/>
<rect x="550.5" y="375.7" width="26" height="6.8" fill="#1414d8"/>
<rect x="562.3" y="377.9" width="2.4" height="2.4" fill="#fff"/>
<rect x="586.5" y="377.6" width="5" height="8" fill="#2e8b3e"/>
<rect x="771" y="302.5" width="48.8" height="12.9" fill="#000"/>
<rect x="773" y="304" width="14" height="10.5" fill="#2e8b3e"/>
<rect x="783" y="305.5" width="13" height="8" fill="#2e8b3e"/>
<rect x="784.5" y="307" width="10" height="5" fill="#1414d8"/>
<rect x="788.3" y="308.3" width="2.4" height="2.4" fill="#fff"/>
<rect x="803" y="305.5" width="15" height="8.5" fill="#2e8b3e"/>
<rect x="804.5" y="307" width="12" height="5.5" fill="#1414d8"/>
<rect x="809.3" y="308.55" width="2.4" height="2.4" fill="#fff"/>
<rect x="929" y="394" width="48.5" height="16.8" fill="#000"/>
<rect x="933" y="397.2" width="5.1" height="8.7" fill="#2e8b3e"/>
<rect x="946" y="395.3" width="12" height="11.4" fill="#2e8b3e"/>
<rect x="947.5" y="396.8" width="9" height="8.4" fill="#1414d8"/>
<rect x="950.8" y="399.8" width="2.4" height="2.4" fill="#fff"/>
<rect x="960.1" y="395.3" width="16.8" height="11.4" fill="#2e8b3e"/>
<rect x="961.6" y="396.8" width="13.8" height="8.4" fill="#1414d8"/>
<rect x="967.3" y="399.8" width="2.4" height="2.4" fill="#fff"/>
<rect x="1093.4" y="297" width="16.9" height="47.7" fill="#000"/>
<rect x="1096.5" y="300.5" width="12.5" height="18" fill="#2e8b3e"/>
<rect x="1098" y="302" width="9.5" height="15" fill="#1414d8"/>
<rect x="1101.55" y="308.3" width="2.4" height="2.4" fill="#fff"/>
<rect x="1096.5" y="320.5" width="12.5" height="13" fill="#2e8b3e"/>
<rect x="1098" y="322" width="9.5" height="10" fill="#1414d8"/>
<rect x="1101.55" y="325.8" width="2.4" height="2.4" fill="#fff"/>
<rect x="1099" y="339.5" width="7" height="4.5" fill="#2e8b3e"/>
<rect x="1093.4" y="374.5" width="16.9" height="50.5" fill="#000"/>
<rect x="1097" y="378" width="9" height="4" fill="#2e8b3e"/>
<rect x="1096.5" y="390" width="12.5" height="12.5" fill="#2e8b3e"/>
<rect x="1098" y="391.5" width="9.5" height="9.5" fill="#1414d8"/>
<rect x="1101.55" y="395.05" width="2.4" height="2.4" fill="#fff"/>
<rect x="1096.5" y="405" width="12.5" height="16" fill="#2e8b3e"/>
<rect x="1098" y="406.5" width="9.5" height="13" fill="#1414d8"/>
<rect x="1101.55" y="411.8" width="2.4" height="2.4" fill="#fff"/>
<rect x="464.7" y="235.5" width="79.6" height="7.2" fill="#000"/>
<rect x="770" y="235.5" width="81.6" height="6.4" fill="#000"/>
<text x="237.4" y="139.9" font-size="16.3">кв.№ 59</text>
<text x="237.7" y="170.7" font-size="16.3">49,2 м²</text>
<text x="384.5" y="136.7" font-size="16.3">кв.№ 60</text>
<text x="385.2" y="167.7" font-size="16.3">54,2 м²</text>
<text x="883.4" y="140.8" font-size="16.3">кв.№ 53</text>
<text x="884.2" y="171.5" font-size="16.3">54,2 м²</text>
<text x="1023.4" y="139.7" font-size="16.3">кв.№ 54</text>
<text x="1023.4" y="170.7" font-size="16.3">40,3 м²</text>
<text x="238.4" y="557.5" font-size="16.3">кв.№ 58</text>
<text x="239.2" y="588.6" font-size="16.3">55,7 м²</text>
<text x="423.4" y="559.7" font-size="16.3">кв.№ 57</text>
<text x="423.8" y="590.7" font-size="16.3">99,9 м²</text>
<text x="817.3" y="557.7" font-size="16.3">кв.№ 56</text>
<text x="818" y="588.6" font-size="16.3">100,2 м²</text>
<text x="1027.5" y="559.7" font-size="16.3">кв.№ 55</text>
<text x="1027.9" y="590.7" font-size="16.3">46,2 м²</text>
</svg>
</body></html>
